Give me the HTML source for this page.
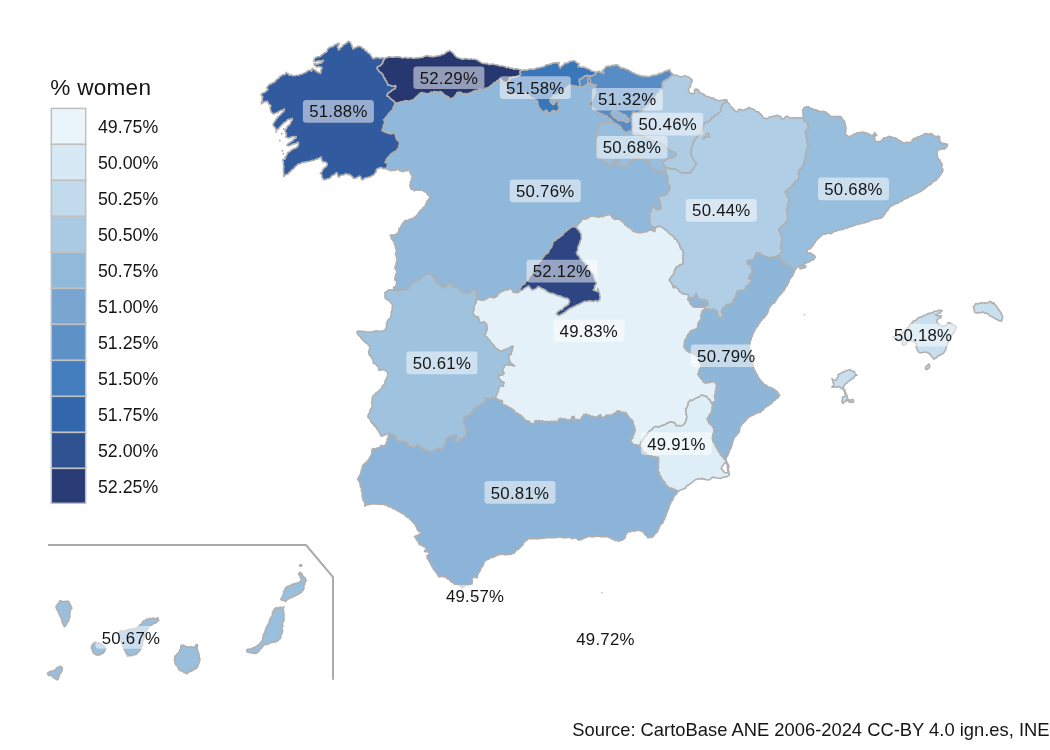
<!DOCTYPE html>
<html><head><meta charset="utf-8"><title>% women</title>
<style>html,body{margin:0;padding:0;background:#fff}body{width:1050px;height:750px;position:relative;overflow:hidden}</style></head>
<body>
<svg width="1050" height="750" viewBox="0 0 1050 750" style="position:absolute;left:0;top:0">
<g stroke="#b0b0b0" stroke-width="1.6" stroke-linejoin="round">
<path fill="#90B8DA" d="M386.3 168.7 387.6 169.1 388.4 170.0 389.9 170.0 390.9 170.8 392.3 170.6 393.5 169.9 394.7 170.4 396.4 169.9 396.6 169.1 397.9 168.1 398.4 169.7 399.5 170.6 400.8 170.9 402.2 171.6 403.5 171.5 405.2 170.7 406.4 170.8 407.6 170.7 408.3 170.1 409.9 169.9 409.7 171.0 409.9 172.6 410.8 173.4 411.1 174.8 412.0 175.8 412.3 177.2 411.2 178.7 411.5 179.9 411.0 181.2 410.1 182.4 410.7 183.9 409.8 185.5 410.1 186.4 410.6 187.7 410.9 188.8 412.1 189.5 413.2 189.6 414.2 190.9 415.4 190.2 416.3 189.9 417.5 189.9 418.9 190.1 420.5 190.1 421.9 190.2 423.3 190.7 424.2 191.8 425.9 192.0 426.6 192.7 427.0 193.9 428.1 194.9 428.9 195.9 430.1 196.5 429.7 197.8 429.0 198.8 428.1 199.9 427.1 201.1 426.7 202.0 426.2 203.5 425.5 204.5 425.5 205.7 424.5 206.8 422.9 207.8 422.3 209.3 420.9 209.9 419.7 211.2 418.9 212.0 418.1 213.7 417.5 214.7 416.5 215.6 415.9 216.3 415.0 217.5 413.9 217.3 413.2 218.5 411.5 218.7 410.5 219.6 409.6 219.3 408.3 219.9 406.8 220.3 404.8 220.5 404.0 222.2 403.0 223.1 401.7 224.7 401.1 226.1 400.4 227.7 398.8 228.8 399.2 230.2 398.6 231.4 398.2 232.5 396.9 233.9 395.9 234.0 394.8 234.9 393.9 235.1 392.6 235.1 391.2 234.9 390.2 235.2 391.0 236.6 391.5 238.2 391.9 239.5 393.3 240.8 393.5 241.8 394.6 243.1 394.3 244.3 395.1 245.1 395.3 246.9 395.8 248.4 396.3 249.9 396.5 251.7 395.6 253.4 395.6 254.8 396.2 255.8 396.6 257.3 396.8 258.9 397.1 260.0 396.5 261.5 396.0 262.8 396.4 264.1 395.6 265.5 395.2 266.7 394.9 268.2 395.8 269.1 396.2 270.6 397.2 271.1 396.7 272.6 396.1 273.8 395.4 275.1 395.5 276.9 394.9 277.9 394.8 279.5 395.4 280.4 396.5 281.5 397.1 282.6 396.2 283.8 396.2 285.5 395.1 286.7 393.5 287.3 393.9 288.4 393.7 289.6 395.1 290.5 396.5 290.2 397.4 290.6 398.3 290.6 399.5 290.7 400.5 289.8 401.5 289.1 402.6 289.9 403.7 290.1 404.5 289.6 406.0 289.7 407.1 289.2 408.2 289.0 409.1 288.2 410.1 287.4 410.0 285.9 410.3 284.1 411.7 283.5 413.1 282.5 414.1 281.8 415.7 281.8 416.8 280.5 417.8 279.8 419.4 279.8 420.2 279.2 421.0 278.0 422.4 276.7 423.3 275.9 425.1 275.4 426.2 275.0 427.4 273.9 428.3 273.5 430.1 273.9 430.8 274.9 432.4 275.3 432.9 276.7 433.9 277.3 434.8 278.1 435.2 278.7 436.5 279.2 436.4 280.5 435.7 281.8 436.9 283.5 438.2 283.8 439.5 284.9 441.0 286.2 442.2 286.3 443.0 287.5 444.2 287.9 445.7 286.5 446.4 285.3 447.9 284.6 449.1 283.6 450.2 283.1 451.8 282.9 451.9 284.4 452.5 285.4 452.2 286.7 453.3 287.1 454.3 287.3 455.7 286.9 457.0 287.3 457.9 288.1 459.1 288.5 460.2 290.1 460.8 291.5 462.6 292.1 463.5 293.3 465.1 293.5 467.1 294.0 468.2 293.5 469.2 292.7 470.2 292.2 471.6 290.5 473.2 290.0 474.8 290.1 476.4 289.5 476.5 290.7 476.5 292.3 476.2 293.2 476.5 295.0 476.5 296.3 476.9 297.6 476.7 299.3 478.1 299.7 479.3 299.6 481.0 299.9 481.8 300.1 483.2 300.6 484.4 299.9 485.7 299.0 487.2 298.7 488.0 297.9 489.4 297.1 490.6 296.8 491.6 297.4 493.2 297.2 494.1 297.9 495.4 297.2 496.9 296.2 498.1 294.6 498.6 293.3 500.1 292.8 500.7 292.0 502.1 291.1 502.9 291.2 504.2 290.4 505.1 290.0 506.4 289.8 507.9 289.9 508.9 289.2 509.8 288.5 511.1 288.8 511.9 289.5 512.4 290.8 512.8 292.0 514.5 292.2 515.8 292.6 517.3 292.7 518.3 292.3 519.3 291.2 519.8 289.8 519.9 288.8 521.1 287.3 521.3 285.8 522.6 285.1 523.3 284.3 524.9 284.0 525.0 282.6 526.2 281.2 526.9 280.3 528.0 279.8 528.5 278.7 529.0 277.3 530.2 275.8 531.2 274.8 531.5 273.5 532.3 272.0 533.6 271.5 533.9 269.8 535.0 268.9 535.5 267.0 536.7 266.0 537.3 264.4 538.5 263.4 539.1 262.2 540.5 261.2 541.4 260.3 541.6 259.1 542.8 258.0 543.5 256.6 544.2 256.2 544.9 254.5 546.0 254.0 547.7 253.0 548.7 252.1 549.0 250.5 549.6 249.4 550.4 248.5 551.5 247.5 551.9 245.8 552.6 244.8 552.3 243.4 553.2 242.0 553.9 240.9 555.7 240.3 556.5 239.2 557.5 238.4 558.7 237.9 559.8 237.2 561.0 236.0 562.6 235.3 563.3 233.8 564.3 232.6 565.6 231.6 566.9 230.6 567.6 229.8 568.8 229.2 569.9 228.2 571.3 227.3 572.3 227.0 573.3 226.5 574.5 227.0 576.0 227.3 576.7 225.9 577.5 225.1 578.7 224.0 579.5 223.1 580.1 222.1 581.4 221.2 581.9 219.9 582.2 218.9 583.5 218.7 585.4 219.3 586.6 218.3 588.3 218.2 589.2 217.2 590.5 216.3 591.6 216.1 592.7 216.0 594.4 216.3 595.6 216.6 597.1 216.7 598.4 217.2 600.1 216.9 601.2 216.3 602.8 216.7 604.0 216.1 605.3 215.3 606.7 215.3 608.5 214.8 610.2 214.7 611.2 215.6 611.8 217.1 613.3 218.4 614.6 219.5 616.2 219.2 617.5 219.2 618.7 218.9 620.1 219.3 620.6 220.8 622.2 221.1 622.9 222.0 624.0 223.1 624.5 223.9 625.2 225.1 626.9 225.7 627.3 226.5 628.2 227.3 629.9 227.8 630.8 228.7 631.6 229.6 632.3 230.2 633.4 231.4 634.4 231.4 635.5 231.9 636.7 232.2 638.1 232.7 639.8 232.8 641.9 232.8 643.2 231.8 644.8 232.1 645.8 231.8 646.9 231.3 647.8 231.4 648.9 229.9 650.1 230.1 651.3 229.9 652.7 230.5 653.8 231.0 654.9 231.7 654.8 230.3 655.1 228.8 655.3 227.6 654.2 226.8 652.6 226.6 651.5 226.1 650.9 224.8 650.2 223.3 650.2 222.5 650.2 221.4 649.9 220.0 650.1 218.5 649.3 217.2 649.7 216.0 649.9 214.5 649.8 213.1 650.5 212.3 651.2 210.7 651.4 209.6 652.1 208.6 652.5 207.3 653.8 207.2 655.1 206.6 655.1 208.0 655.8 209.1 656.9 210.0 657.9 209.8 659.1 209.0 659.9 209.0 661.1 208.8 661.1 207.7 660.6 206.8 660.7 205.3 660.2 203.7 660.2 201.9 659.3 201.0 659.6 199.7 658.5 198.7 659.0 197.7 658.6 196.1 659.4 195.2 660.2 195.5 661.5 196.0 662.8 196.1 663.9 195.6 664.9 195.3 666.1 194.7 667.5 193.5 668.0 191.8 668.6 190.8 669.6 190.0 669.9 188.9 670.1 187.3 669.1 186.4 669.5 185.1 668.5 184.2 668.0 183.4 667.1 181.9 667.7 180.6 667.8 178.5 668.0 177.2 667.6 175.9 666.7 174.6 666.3 173.1 666.4 171.8 666.0 170.7 665.1 171.8 663.3 171.8 662.4 172.3 661.2 172.5 660.0 173.2 658.8 172.0 657.5 171.2 655.9 171.0 654.3 171.4 653.4 170.8 653.1 169.3 652.5 168.0 651.0 167.2 650.0 166.1 649.9 164.6 650.6 163.1 650.0 161.9 648.9 160.5 647.6 160.6 646.0 160.6 644.6 161.2 643.9 159.9 642.5 158.6 641.1 158.5 639.6 159.0 637.9 158.3 636.8 158.5 635.2 158.5 633.9 158.9 632.7 159.7 631.4 160.5 630.3 161.4 629.6 162.7 629.5 164.2 628.1 164.9 628.0 165.9 626.5 166.9 625.3 166.2 624.1 167.0 622.8 166.7 621.1 166.5 620.2 166.0 618.9 166.2 617.9 164.5 617.5 163.2 617.7 162.2 618.6 160.7 618.6 159.4 617.4 159.7 616.1 159.2 614.9 160.2 614.8 161.5 613.3 162.6 613.4 164.0 612.0 164.5 610.6 165.6 610.2 166.7 609.1 165.4 608.3 164.7 607.3 163.2 605.9 162.6 604.5 162.9 603.4 161.9 602.0 161.1 602.0 159.8 600.6 158.6 600.2 157.0 599.1 156.3 598.7 154.8 598.2 153.4 598.2 151.5 598.0 150.1 597.3 148.4 597.2 146.9 597.3 144.8 596.9 143.3 597.4 141.5 596.7 139.9 597.1 138.2 596.6 136.4 596.4 135.0 596.9 133.4 597.5 132.3 597.9 131.3 598.9 130.1 598.1 128.8 598.6 127.0 598.2 125.9 598.9 124.8 599.0 123.7 600.2 122.5 601.6 122.8 603.1 122.1 604.5 121.8 605.9 122.7 607.6 123.0 608.9 123.1 609.9 123.0 611.5 123.4 613.0 122.9 614.0 123.0 613.2 121.8 612.0 120.5 611.4 119.8 610.2 118.8 608.2 117.9 607.5 116.6 606.2 115.8 604.6 115.4 602.9 114.7 601.9 113.5 600.6 113.7 599.1 113.2 598.0 112.3 596.7 112.8 596.1 111.5 595.9 110.2 594.6 109.4 593.3 108.3 592.0 107.2 591.1 105.8 590.4 105.1 588.8 104.2 589.6 103.0 590.5 102.0 591.6 101.6 591.9 100.4 592.5 98.7 593.3 97.1 593.9 96.0 594.8 94.4 595.0 92.8 596.1 92.1 595.3 90.6 594.7 89.5 594.1 88.7 594.2 88.1 595.4 87.3 595.7 86.3 596.2 84.9 594.8 85.1 593.5 84.7 592.4 83.8 591.5 83.8 590.5 84.1 589.7 83.1 588.6 83.2 588.0 83.8 586.6 84.5 585.7 85.0 584.3 86.2 582.8 86.8 581.3 87.0 580.4 86.9 578.9 87.0 577.8 86.5 576.2 86.2 575.2 86.1 573.5 86.0 572.3 85.3 570.7 85.6 570.1 85.1 569.0 85.4 568.0 86.2 567.4 86.8 566.1 87.5 565.2 88.9 564.4 89.6 563.7 90.9 562.5 91.2 561.4 92.4 560.5 92.8 559.1 94.2 557.8 93.9 557.0 95.2 555.2 95.3 553.7 95.6 552.9 96.5 552.2 97.2 551.2 99.1 550.0 99.8 550.2 101.5 550.7 102.7 552.0 103.6 552.7 104.5 553.8 104.5 554.5 103.2 555.7 102.1 555.9 100.6 557.5 100.9 558.9 101.2 558.1 102.5 558.2 104.1 558.0 105.3 559.1 106.2 559.3 107.3 559.1 108.2 558.3 109.6 558.6 110.9 557.1 110.9 555.9 112.0 554.9 111.1 554.3 110.7 552.6 110.5 551.3 111.7 550.7 113.3 549.5 112.6 547.8 112.6 547.4 111.2 545.9 109.9 545.0 111.1 544.0 112.7 542.9 111.5 541.4 110.8 540.9 109.5 539.8 108.5 538.6 107.5 539.6 107.9 540.0 109.4 539.2 107.7 538.7 106.8 538.2 105.0 537.8 103.9 537.8 101.9 536.8 100.5 535.0 99.5 533.8 98.7 532.7 98.2 531.3 97.9 530.6 96.8 529.5 96.0 528.3 94.6 527.0 93.7 526.3 93.3 525.0 93.3 524.2 92.5 522.1 92.7 520.7 93.1 519.2 93.6 518.0 93.7 516.7 93.6 515.4 94.1 513.9 94.5 512.5 94.6 510.6 94.6 510.2 93.3 509.4 93.3 508.7 91.7 507.8 90.4 507.3 89.0 506.8 87.5 506.1 86.2 505.3 85.4 504.9 83.8 504.0 82.4 503.0 81.8 502.0 80.6 501.2 79.7 500.1 78.3 499.4 78.9 498.3 80.4 497.0 80.5 496.5 81.7 494.8 82.5 493.4 83.1 493.0 84.2 491.9 85.1 490.7 85.6 489.3 87.0 488.1 87.6 486.7 88.2 485.3 88.1 484.5 88.9 482.9 89.4 481.9 89.5 480.1 89.6 479.0 89.5 477.5 90.2 476.2 90.5 475.3 90.3 474.1 91.2 472.9 91.4 472.3 92.2 470.8 92.5 470.0 93.1 468.0 93.5 467.2 94.5 465.2 93.6 463.7 93.9 462.4 93.7 461.5 92.6 460.2 92.4 458.6 92.2 456.9 92.8 456.5 94.3 455.3 95.2 454.8 96.5 454.2 97.4 452.6 97.7 451.6 98.9 450.3 98.7 448.9 97.6 448.1 96.6 447.1 96.1 445.5 95.8 444.3 94.7 443.1 93.5 441.7 92.2 440.1 91.6 439.2 92.4 437.5 91.7 436.4 92.2 435.2 91.6 433.9 91.6 432.5 92.6 430.7 92.1 429.9 93.2 428.4 93.6 427.0 93.8 425.6 93.5 424.3 93.0 423.0 93.2 421.9 92.5 420.2 93.3 419.0 94.4 418.0 95.4 416.9 96.4 415.5 97.7 414.3 98.8 413.7 99.9 411.7 100.0 410.4 100.7 409.0 101.3 407.1 100.8 405.6 100.8 403.9 101.1 402.8 101.9 401.1 101.7 399.7 102.3 398.4 103.0 397.1 102.7 395.7 103.0 394.9 103.8 394.6 105.4 393.5 106.4 393.2 107.1 393.0 108.5 393.1 109.9 391.6 110.4 390.4 111.8 389.9 112.8 388.4 113.6 387.7 115.5 386.5 116.5 385.4 117.7 384.8 119.1 383.6 119.7 384.3 120.7 384.6 122.3 384.3 123.9 383.5 125.1 383.1 126.5 383.2 128.2 382.2 129.5 382.3 131.0 383.4 130.9 384.7 132.0 385.5 132.3 387.2 132.6 388.0 133.5 389.4 133.3 391.1 133.9 392.6 133.4 393.8 132.5 394.7 133.7 395.5 135.5 395.8 136.8 396.2 138.1 396.8 139.7 398.1 140.5 398.9 141.7 399.7 143.3 399.3 144.9 398.8 146.1 398.5 147.4 398.2 148.5 396.8 150.0 396.1 150.8 395.2 151.6 393.5 152.1 393.1 153.1 391.3 153.6 390.1 154.9 389.3 156.0 388.4 156.8 387.6 157.8 386.4 159.0 386.2 160.6 385.0 162.2 386.6 163.0 387.8 164.0 387.2 165.8 387.2 167.1 386.3 168.7Z"/>
<path fill="#E4F1F9" d="M476.7 299.3 478.1 299.7 479.3 299.6 481.0 299.9 481.8 300.1 483.2 300.6 484.4 299.9 485.7 299.0 487.2 298.7 488.0 297.9 489.4 297.1 490.6 296.8 491.6 297.4 493.2 297.2 494.1 297.9 495.4 297.2 496.9 296.2 498.1 294.6 498.6 293.3 500.1 292.8 500.7 292.0 502.1 291.1 502.9 291.2 504.2 290.4 505.1 290.0 506.4 289.8 507.9 289.9 508.9 289.2 509.8 288.5 511.1 288.8 511.9 289.5 512.4 290.8 512.8 292.0 514.5 292.2 515.8 292.6 517.3 292.7 518.3 292.3 519.3 291.2 519.8 289.8 519.9 288.8 521.1 287.3 521.3 285.8 522.6 285.1 523.3 284.3 524.9 284.0 525.0 282.6 526.2 281.2 526.9 280.3 528.0 279.8 528.5 278.7 529.0 277.3 530.2 275.8 531.2 274.8 531.5 273.5 532.3 272.0 533.6 271.5 533.9 269.8 535.0 268.9 535.5 267.0 536.7 266.0 537.3 264.4 538.5 263.4 539.1 262.2 540.5 261.2 541.4 260.3 541.6 259.1 542.8 258.0 543.5 256.6 544.2 256.2 544.9 254.5 546.0 254.0 547.7 253.0 548.7 252.1 549.0 250.5 549.6 249.4 550.4 248.5 551.5 247.5 551.9 245.8 552.6 244.8 552.3 243.4 553.2 242.0 553.9 240.9 555.7 240.3 556.5 239.2 557.5 238.4 558.7 237.9 559.8 237.2 561.0 236.0 562.6 235.3 563.3 233.8 564.3 232.6 565.6 231.6 566.9 230.6 567.6 229.8 568.8 229.2 569.9 228.2 571.3 227.3 572.3 227.0 573.3 226.5 574.5 227.0 576.0 227.3 576.7 225.9 577.5 225.1 578.7 224.0 579.5 223.1 580.1 222.1 581.4 221.2 581.9 219.9 582.2 218.9 583.5 218.7 585.4 219.3 586.6 218.3 588.3 218.2 589.2 217.2 590.5 216.3 591.6 216.1 592.7 216.0 594.4 216.3 595.6 216.6 597.1 216.7 598.4 217.2 600.1 216.9 601.2 216.3 602.8 216.7 604.0 216.1 605.3 215.3 606.7 215.3 608.5 214.8 610.2 214.7 611.2 215.6 611.8 217.1 613.3 218.4 614.6 219.5 616.2 219.2 617.5 219.2 618.7 218.9 620.1 219.3 620.6 220.8 622.2 221.1 622.9 222.0 624.0 223.1 624.5 223.9 625.2 225.1 626.9 225.7 627.3 226.5 628.2 227.3 629.9 227.8 630.8 228.7 631.6 229.6 632.3 230.2 633.4 231.4 634.4 231.4 635.5 231.9 636.7 232.2 638.1 232.7 639.8 232.8 641.9 232.8 643.2 231.8 644.8 232.1 645.8 231.8 646.9 231.3 647.8 231.4 648.9 229.9 650.1 230.1 651.3 229.9 652.7 230.5 653.8 231.0 654.9 231.7 654.8 230.3 655.1 228.8 655.3 227.6 656.7 227.3 657.4 226.6 658.5 226.1 660.2 226.4 661.2 226.8 662.9 227.6 664.1 228.7 665.2 229.7 666.4 230.2 667.5 231.2 668.3 232.5 669.3 233.3 670.5 234.2 671.5 235.3 673.1 235.8 674.1 237.2 674.8 238.8 676.5 239.4 677.2 240.9 677.9 242.3 679.4 243.4 679.3 245.0 680.3 245.8 680.1 247.2 680.8 248.5 682.2 250.0 682.9 251.0 683.0 252.0 683.3 253.1 683.4 254.9 682.7 255.6 682.8 257.1 683.1 258.8 683.0 259.9 683.2 261.2 683.1 262.9 682.9 263.7 682.1 264.6 680.8 264.6 679.4 265.2 678.8 266.2 677.2 266.8 676.1 267.3 675.4 268.8 674.9 269.8 674.4 270.9 674.3 272.4 673.8 273.1 673.3 274.9 671.9 275.9 670.9 277.6 669.9 278.7 669.3 280.1 670.0 280.7 670.4 281.6 671.2 282.6 672.0 284.1 673.4 285.5 673.0 286.6 673.7 287.9 674.0 287.0 674.8 286.2 675.7 286.6 676.7 287.8 678.1 288.7 678.8 289.6 679.2 290.9 679.7 291.7 681.5 292.4 682.1 293.3 683.8 294.0 685.3 294.0 686.8 293.8 688.1 294.5 688.4 295.7 688.8 297.1 688.5 298.3 687.7 298.9 688.4 300.1 689.6 301.1 690.3 302.1 690.3 303.9 691.5 304.7 692.9 305.6 694.7 305.7 695.6 307.0 697.4 307.3 699.0 306.8 700.6 306.3 702.1 307.1 703.5 306.8 705.5 305.9 704.5 307.2 704.9 308.5 704.0 310.0 703.0 310.7 702.2 311.1 702.1 312.2 702.0 313.4 701.1 314.7 700.7 316.1 701.3 317.3 701.2 318.6 700.8 320.2 699.9 320.6 699.1 321.8 698.5 322.7 698.2 324.4 697.8 325.2 697.7 326.7 697.9 327.5 697.2 328.5 695.7 329.3 694.7 329.8 693.2 330.2 692.1 330.6 690.7 331.1 690.0 332.0 689.6 333.2 688.3 334.1 687.9 335.5 687.2 336.0 687.1 337.6 685.8 338.8 685.4 340.0 684.6 341.1 684.5 342.5 684.6 344.3 684.2 345.1 684.0 346.5 684.8 347.9 685.8 349.4 686.7 350.5 688.0 351.0 688.6 351.8 690.2 352.2 691.1 352.9 692.9 353.5 694.2 353.9 694.9 354.3 696.3 355.4 697.3 356.0 697.9 357.2 698.8 358.5 699.4 360.2 699.8 361.2 700.0 363.1 701.3 364.3 701.4 366.2 701.1 367.6 700.1 368.1 699.7 369.7 699.2 370.8 698.9 371.5 698.7 372.9 697.8 374.2 698.8 374.8 699.3 376.3 699.9 377.2 701.1 378.6 702.3 379.5 702.9 380.8 703.4 381.9 704.9 382.8 706.2 382.9 707.9 382.4 709.4 382.5 710.6 382.2 711.7 381.9 713.0 381.6 714.5 381.5 715.4 382.9 716.1 383.8 716.9 385.4 716.3 386.7 716.4 388.1 715.9 389.4 715.6 390.3 715.5 391.7 715.5 393.1 715.2 394.8 714.6 395.7 714.7 397.5 715.1 399.0 715.9 399.9 715.0 401.2 713.3 402.1 712.7 402.4 712.0 403.3 711.0 402.7 710.5 401.1 709.8 399.8 708.6 399.0 707.4 398.0 706.8 396.5 705.4 396.2 703.7 395.8 702.5 395.1 701.3 395.3 700.2 396.5 698.6 396.9 697.7 397.6 696.0 398.0 694.9 398.9 693.9 399.4 692.9 400.2 691.2 400.5 690.2 400.1 689.5 401.4 688.5 401.9 688.1 403.2 688.1 404.9 687.3 406.4 686.8 408.2 685.6 409.0 685.9 410.1 686.0 411.1 686.1 412.7 686.0 413.8 686.8 415.6 686.8 416.8 686.9 418.2 685.8 419.8 686.2 421.1 685.3 422.5 684.6 423.5 684.0 424.2 682.6 425.5 681.7 425.8 679.9 426.1 678.7 425.5 677.2 425.8 675.9 425.6 675.4 424.1 674.5 422.5 673.4 422.8 672.2 422.0 671.4 421.9 669.4 422.2 668.6 422.9 666.6 423.2 665.8 424.2 664.0 425.1 662.5 425.4 661.7 426.2 660.0 426.3 658.5 427.3 657.4 426.9 656.2 426.5 654.7 426.8 653.5 427.9 652.6 428.8 651.1 430.1 649.9 430.8 649.1 431.5 648.4 432.9 647.1 433.3 646.7 434.8 645.5 436.1 644.1 437.2 643.2 438.8 642.3 439.9 642.4 441.3 641.0 441.8 640.6 443.5 640.2 444.5 639.3 445.7 638.2 445.6 636.4 445.0 635.3 444.7 634.1 444.9 633.0 444.0 632.2 443.3 631.1 441.8 630.5 440.4 630.9 439.0 632.5 438.2 632.9 436.7 633.1 435.4 634.1 433.9 634.2 432.4 634.9 431.5 635.0 429.7 634.7 428.5 634.4 427.6 634.2 425.8 633.1 424.6 633.2 422.9 632.7 421.2 631.7 419.8 630.4 419.2 629.3 418.0 628.4 416.3 627.1 415.1 626.5 413.6 625.4 412.5 623.8 412.5 621.8 412.2 620.7 412.0 619.2 411.1 617.1 411.1 616.3 412.5 615.0 413.0 613.8 414.0 612.5 414.5 611.2 416.2 610.0 415.2 608.6 415.3 607.5 415.4 606.3 415.3 605.5 416.1 604.3 417.0 603.8 417.9 603.9 419.2 602.7 418.3 602.0 417.5 601.0 416.2 600.5 414.7 599.5 415.4 598.2 416.3 597.3 416.7 596.1 417.4 594.3 417.3 593.3 416.6 591.9 416.6 590.6 416.2 589.6 415.4 588.2 415.5 587.3 414.7 585.9 414.3 584.9 414.7 583.8 414.6 583.2 415.8 582.1 417.0 581.5 418.4 581.1 419.3 579.9 419.5 578.5 420.4 577.2 419.6 575.8 419.5 574.5 419.7 574.2 418.2 574.2 416.6 572.8 416.7 572.0 416.6 572.1 418.2 571.1 419.0 571.4 420.2 569.8 420.0 568.7 420.3 567.5 419.8 566.1 419.7 564.7 418.7 563.1 418.8 562.1 419.0 560.5 418.4 559.5 418.7 558.4 420.3 557.8 421.4 556.5 421.9 555.1 421.3 553.8 422.1 552.7 421.5 551.0 421.6 549.1 421.9 548.1 421.8 546.9 421.5 545.1 422.1 543.8 421.6 542.9 421.1 541.2 421.3 539.7 421.1 538.9 420.5 537.6 421.1 535.9 420.8 534.9 420.9 534.6 422.5 534.8 424.0 533.7 423.9 532.9 423.8 531.3 423.5 530.1 422.9 529.4 421.8 528.0 421.0 526.5 420.9 525.3 420.2 524.1 419.4 523.8 418.3 522.7 417.5 522.0 416.6 520.9 415.5 520.1 414.8 518.5 414.5 518.1 413.6 516.8 413.2 515.8 412.7 514.7 411.9 514.1 410.5 513.1 410.1 511.7 408.8 510.6 408.1 509.4 407.7 508.3 407.0 506.7 406.3 505.3 405.3 503.9 405.2 502.9 404.7 502.3 403.7 502.3 402.0 502.0 400.5 500.7 400.5 499.2 400.2 498.2 399.8 496.9 398.6 495.8 399.1 494.7 398.0 495.5 397.0 495.8 396.0 496.7 394.6 497.2 393.1 498.0 391.8 498.4 391.0 498.3 389.2 498.8 388.0 499.0 387.1 500.2 386.1 501.4 386.2 503.4 386.1 503.2 384.2 504.0 382.9 502.9 381.7 501.4 382.0 500.8 381.5 500.6 380.2 499.4 379.3 498.9 378.0 498.8 376.8 498.3 375.9 497.9 374.3 499.5 375.1 500.9 374.9 502.1 375.2 502.9 374.5 504.2 373.1 503.4 372.5 502.8 371.2 502.6 369.8 503.2 368.5 503.6 367.6 504.2 366.0 505.4 365.5 506.6 364.4 508.4 364.4 509.1 365.1 510.7 365.1 512.2 365.2 512.9 365.6 514.5 365.8 513.2 364.9 512.1 364.1 511.1 363.3 510.3 362.5 509.7 361.0 509.2 359.8 509.1 358.4 508.2 357.4 507.9 356.1 509.4 355.6 510.6 354.5 511.4 353.5 511.0 352.0 511.9 350.8 512.3 349.1 512.7 347.6 512.9 346.2 511.3 346.7 510.2 347.4 509.1 348.2 507.8 348.7 506.6 349.0 505.4 349.9 503.8 349.9 502.9 350.9 501.4 351.5 499.8 350.7 498.8 350.0 497.5 349.4 496.2 348.3 494.8 347.4 494.2 346.0 493.4 345.1 492.0 343.9 491.3 343.0 490.7 342.1 489.9 340.6 489.1 339.8 488.1 339.0 487.5 337.8 486.3 336.8 485.2 336.6 484.7 335.5 485.5 334.0 485.8 332.9 486.2 331.3 486.8 330.0 487.2 328.7 487.2 327.4 486.4 326.0 486.7 324.8 485.7 323.4 484.5 322.2 483.5 321.7 482.3 322.7 481.1 322.9 480.0 322.1 479.2 320.8 479.2 319.5 478.2 318.2 478.2 316.7 476.4 316.9 474.9 316.0 473.7 314.7 472.9 314.0 473.0 312.1 473.3 311.1 474.1 309.5 473.7 307.6 474.1 306.0 474.8 304.6 475.6 303.3 476.1 302.5 475.8 300.3 476.7 299.3Z"/>
<path fill="#8CB4D8" d="M677.7 491.3 677.5 492.4 676.8 493.4 675.8 494.7 674.6 495.6 674.1 496.6 673.3 497.9 673.1 499.1 672.2 500.7 670.9 501.5 670.9 502.5 670.4 504.0 669.4 505.0 669.5 505.8 668.9 507.4 668.7 508.5 668.3 509.8 667.1 511.4 667.1 512.5 666.1 513.8 666.2 515.5 665.5 516.6 664.8 517.9 664.8 519.4 663.6 520.3 663.1 522.1 662.6 523.2 661.7 523.9 660.5 524.5 660.0 525.9 659.3 527.1 658.7 528.9 658.1 530.1 657.5 531.1 656.9 532.6 655.3 533.4 654.6 534.6 653.8 535.8 652.6 536.9 651.5 537.5 649.3 537.5 647.8 537.9 647.4 536.4 646.0 535.7 645.4 534.9 644.4 533.9 643.7 532.6 642.6 531.5 641.8 531.1 640.4 531.0 639.4 529.9 638.3 530.6 636.5 530.3 635.2 531.1 633.8 531.5 632.1 530.5 630.8 531.6 629.1 531.9 627.8 532.0 627.0 533.1 626.0 534.4 625.6 536.0 625.3 537.4 624.2 538.6 623.5 539.3 622.3 540.2 620.9 540.4 619.2 540.9 618.2 541.1 616.6 540.2 615.5 540.7 614.3 539.8 613.1 539.4 612.0 539.1 610.6 538.4 610.2 537.5 608.5 537.3 607.3 536.6 606.2 536.7 604.6 536.5 603.1 537.0 602.3 536.2 600.9 536.9 599.6 536.5 598.2 536.3 596.5 536.2 595.1 536.5 593.9 536.6 592.4 536.4 591.6 537.0 590.2 536.5 588.8 536.5 587.1 537.0 586.2 537.6 584.7 537.7 583.4 538.5 582.2 539.4 580.7 539.5 579.7 540.1 578.0 539.7 576.8 538.5 575.1 537.9 573.9 537.8 572.5 538.8 571.5 538.2 570.1 537.8 568.8 537.2 567.4 537.8 566.2 537.2 564.5 538.1 563.4 537.3 561.8 537.6 560.8 537.1 559.6 536.8 557.8 537.4 556.7 537.2 555.2 537.6 554.2 537.7 552.7 537.5 551.3 537.8 550.3 537.4 548.6 537.8 547.2 537.6 546.0 537.4 544.5 538.2 543.2 538.3 542.2 538.5 540.6 538.3 539.1 538.8 537.8 538.7 536.6 538.9 535.0 538.4 533.6 538.8 531.8 538.4 530.1 538.5 531.5 538.3 533.5 538.7 532.1 538.4 530.7 538.7 529.6 538.6 528.0 538.9 527.3 539.9 526.4 540.5 525.1 541.1 523.9 542.5 523.2 543.9 522.9 545.1 521.5 546.2 520.2 547.4 519.4 548.5 518.3 549.4 516.9 549.6 516.1 550.6 515.0 552.1 514.0 553.1 512.6 553.2 512.0 554.1 510.6 554.5 509.1 554.0 508.1 554.7 506.9 554.6 505.6 554.6 503.9 554.6 502.8 554.1 501.1 554.4 500.2 554.3 498.5 554.9 496.9 555.0 496.1 555.9 494.5 556.6 493.2 557.5 491.7 557.2 490.5 557.9 489.2 558.9 488.0 559.5 486.8 559.7 485.5 560.3 485.0 561.5 483.8 562.5 483.6 563.9 483.0 565.8 481.9 566.9 481.1 568.1 480.4 569.5 480.2 570.8 479.2 572.1 478.4 573.3 478.0 574.5 477.2 575.7 477.6 576.9 476.9 577.9 475.2 577.4 474.2 576.6 473.0 577.8 471.5 578.9 472.3 580.5 472.3 581.5 472.2 583.5 470.8 584.3 469.3 584.8 467.8 585.3 466.4 584.6 465.5 585.5 464.1 586.4 462.8 586.8 461.8 588.1 461.5 586.9 460.1 585.9 459.4 585.1 457.9 584.8 456.2 584.0 454.6 584.2 453.7 583.3 452.4 582.2 451.5 582.2 450.5 580.9 449.6 580.1 448.9 579.2 447.2 578.7 446.4 577.6 445.3 576.6 443.9 576.9 442.1 576.5 440.6 576.3 438.9 576.9 438.0 575.6 437.2 573.8 436.1 572.5 435.5 571.5 434.3 570.2 433.2 568.9 432.8 567.2 431.8 566.5 431.6 565.4 430.7 564.2 430.2 562.5 429.1 561.7 428.9 560.2 428.0 559.1 427.0 558.2 427.6 557.1 426.8 556.0 428.0 555.3 428.9 554.5 429.9 554.0 428.7 553.1 427.9 551.5 426.2 551.7 424.5 551.5 425.3 550.0 426.6 548.9 425.3 547.4 424.0 546.5 422.6 546.2 421.8 545.0 419.9 544.9 418.8 543.5 418.5 542.5 418.1 541.5 416.8 540.3 416.3 539.2 415.8 538.1 415.2 537.7 414.5 536.6 416.2 535.8 417.3 535.6 418.9 534.7 419.6 533.8 420.8 533.7 421.5 532.5 420.1 531.6 418.8 531.5 417.7 530.3 417.0 528.8 416.7 527.3 415.6 525.9 415.1 524.3 413.8 523.1 412.9 522.6 412.2 521.4 411.2 520.3 409.9 519.4 409.3 518.0 407.3 517.2 406.5 516.7 405.1 515.5 403.9 514.1 402.9 513.8 401.1 512.9 399.9 511.8 398.7 511.5 397.5 510.8 396.1 509.8 395.2 509.1 394.2 509.0 392.7 508.5 391.9 507.7 390.6 506.6 388.8 506.9 387.8 506.0 386.7 505.3 384.8 504.9 383.5 504.1 382.5 504.6 381.1 504.2 379.9 503.9 378.2 504.1 376.7 504.0 375.8 503.5 374.3 504.2 373.0 503.9 371.6 503.8 370.1 504.5 368.5 504.7 367.2 504.6 366.0 505.4 364.8 506.2 365.0 504.6 364.6 502.6 363.8 501.3 363.1 500.1 362.7 498.0 362.2 496.7 362.0 495.0 362.7 493.3 362.0 492.0 361.2 490.5 361.7 488.6 360.8 487.3 360.1 486.2 360.6 484.6 359.9 483.5 359.4 482.2 358.6 480.6 357.9 479.8 357.6 478.8 358.6 477.8 358.8 476.8 359.8 475.6 360.2 474.4 360.8 473.1 361.0 472.1 361.3 470.3 362.0 469.2 362.2 467.9 362.3 466.5 362.8 465.5 363.8 464.1 364.8 463.6 365.6 462.6 366.8 462.0 367.4 461.0 368.4 459.8 369.0 458.8 369.7 457.8 370.3 456.5 371.3 455.4 371.6 453.9 371.7 452.6 371.7 451.6 371.9 450.4 372.2 449.1 373.3 448.6 374.5 448.8 375.9 448.4 377.5 447.9 378.8 447.8 380.2 447.2 380.5 445.5 382.5 445.5 383.7 446.6 384.7 445.3 385.6 444.6 386.3 443.2 386.5 442.2 387.5 440.5 387.0 439.6 388.3 438.1 388.0 436.7 388.7 435.8 388.5 434.3 389.0 433.3 390.2 433.6 391.3 434.3 392.4 434.7 394.0 435.1 394.9 435.8 396.5 436.7 396.3 438.4 397.1 439.8 398.2 440.8 399.3 441.2 400.4 441.4 401.7 441.8 402.7 441.2 404.5 441.3 405.6 442.1 406.7 442.5 407.6 442.9 408.3 444.0 408.1 444.8 408.8 445.9 410.2 446.8 411.8 446.6 412.9 447.0 414.2 447.3 415.4 446.3 416.4 445.5 417.2 444.9 418.1 445.1 419.9 445.5 420.4 446.9 421.8 447.9 422.6 449.0 423.8 449.0 425.2 450.2 426.4 450.1 427.0 450.7 428.2 451.4 429.3 452.0 431.1 451.8 432.4 451.3 433.9 450.2 435.5 449.5 436.5 449.0 438.3 448.5 439.8 448.2 441.2 448.6 442.8 448.5 443.5 446.8 444.5 446.2 444.7 444.7 445.0 443.5 445.0 442.4 445.2 441.3 445.9 440.0 446.5 439.0 447.9 438.0 448.6 437.5 449.9 436.6 450.8 436.1 452.3 435.8 454.1 435.4 455.8 434.8 456.7 436.1 457.5 436.5 456.7 437.8 456.2 438.7 455.4 439.6 454.5 440.6 455.6 441.5 456.2 442.3 457.2 442.0 458.3 440.8 458.9 439.9 460.1 439.9 461.0 438.8 462.4 438.5 463.5 437.6 465.2 436.7 465.8 435.9 465.9 434.3 466.8 433.3 466.0 432.0 466.1 430.4 465.9 428.9 464.9 427.4 465.1 425.4 464.5 423.9 463.5 422.9 463.8 421.4 462.9 420.0 463.8 418.6 465.0 417.1 465.9 415.9 467.6 415.9 468.5 414.7 469.6 414.6 470.8 413.5 471.9 412.1 472.6 410.6 473.5 409.4 474.9 408.2 476.2 406.5 477.6 406.6 479.0 406.1 480.2 405.3 480.9 403.9 481.9 403.4 483.4 402.7 484.3 401.5 485.1 401.1 485.9 400.2 485.6 398.8 485.2 397.8 486.8 398.3 488.2 398.1 489.5 398.9 490.3 398.8 491.8 398.0 492.5 397.5 493.8 397.6 494.7 398.0 495.8 399.1 496.9 398.6 498.2 399.8 499.2 400.2 500.7 400.5 502.0 400.5 502.3 402.0 502.3 403.7 502.9 404.7 503.9 405.2 505.3 405.3 506.7 406.3 508.3 407.0 509.4 407.7 510.6 408.1 511.7 408.8 513.1 410.1 514.1 410.5 514.7 411.9 515.8 412.7 516.8 413.2 518.1 413.6 518.5 414.5 520.1 414.8 520.9 415.5 522.0 416.6 522.7 417.5 523.8 418.3 524.1 419.4 525.3 420.2 526.5 420.9 528.0 421.0 529.4 421.8 530.1 422.9 531.3 423.5 532.9 423.8 533.7 423.9 534.8 424.0 534.6 422.5 534.9 420.9 535.9 420.8 537.6 421.1 538.9 420.5 539.7 421.1 541.2 421.3 542.9 421.1 543.8 421.6 545.1 422.1 546.9 421.5 548.1 421.8 549.1 421.9 551.0 421.6 552.7 421.5 553.8 422.1 555.1 421.3 556.5 421.9 557.8 421.4 558.4 420.3 559.5 418.7 560.5 418.4 562.1 419.0 563.1 418.8 564.7 418.7 566.1 419.7 567.5 419.8 568.7 420.3 569.8 420.0 571.4 420.2 571.1 419.0 572.1 418.2 572.0 416.6 572.8 416.7 574.2 416.6 574.2 418.2 574.5 419.7 575.8 419.5 577.2 419.6 578.5 420.4 579.9 419.5 581.1 419.3 581.5 418.4 582.1 417.0 583.2 415.8 583.8 414.6 584.9 414.7 585.9 414.3 587.3 414.7 588.2 415.5 589.6 415.4 590.6 416.2 591.9 416.6 593.3 416.6 594.3 417.3 596.1 417.4 597.3 416.7 598.2 416.3 599.5 415.4 600.5 414.7 601.0 416.2 602.0 417.5 602.7 418.3 603.9 419.2 603.8 417.9 604.3 417.0 605.5 416.1 606.3 415.3 607.5 415.4 608.6 415.3 610.0 415.2 611.2 416.2 612.5 414.5 613.8 414.0 615.0 413.0 616.3 412.5 617.1 411.1 619.2 411.1 620.7 412.0 621.8 412.2 623.8 412.5 625.4 412.5 626.5 413.6 627.1 415.1 628.4 416.3 629.3 418.0 630.4 419.2 631.7 419.8 632.7 421.2 633.2 422.9 633.1 424.6 634.2 425.8 634.4 427.6 634.7 428.5 635.0 429.7 634.9 431.5 634.2 432.4 634.1 433.9 633.1 435.4 632.9 436.7 632.5 438.2 630.9 439.0 630.5 440.4 631.1 441.8 632.2 443.3 633.0 444.0 634.1 444.9 635.3 444.7 636.4 445.0 638.2 445.6 639.3 445.7 640.0 446.7 641.5 447.6 642.0 448.6 642.6 450.1 643.4 451.5 644.8 452.9 646.2 453.1 647.1 454.9 649.0 455.3 650.2 456.1 651.5 455.9 653.1 456.6 654.8 456.8 656.1 456.9 657.6 457.3 658.5 457.3 658.8 459.0 658.1 460.1 658.9 461.7 658.2 463.4 658.3 465.0 658.4 466.3 658.4 467.9 658.0 469.5 658.0 471.0 659.5 472.4 659.0 473.9 660.0 475.5 661.0 476.4 661.5 478.2 662.4 479.6 663.3 480.7 664.3 481.5 665.1 482.9 665.7 484.4 666.7 485.2 667.6 486.3 668.8 487.4 669.9 487.9 671.5 488.3 672.9 488.7 674.1 489.2 675.3 489.6 676.7 490.2 677.7 491.3Z"/>
<path fill="#9FC3DF" d="M389.0 433.3 387.4 433.6 386.2 434.7 384.8 434.8 383.7 435.6 382.3 436.0 381.1 436.1 380.2 434.5 380.2 433.3 379.0 432.2 378.6 430.7 377.3 429.5 376.5 428.6 376.5 427.1 375.3 426.2 374.6 424.7 373.9 423.5 374.3 424.6 374.7 425.2 374.7 426.8 374.0 425.1 373.5 424.3 372.4 423.5 371.3 422.4 370.8 421.5 370.3 420.1 370.0 418.9 368.5 418.0 368.0 417.3 368.0 415.8 368.4 414.5 369.1 413.2 369.7 412.4 369.9 410.9 370.2 409.8 371.0 408.7 371.9 407.7 372.2 405.8 372.1 404.8 371.8 403.2 371.5 402.2 372.2 400.5 372.1 399.3 372.3 397.9 372.7 396.6 373.6 395.2 375.0 394.6 375.3 393.9 376.2 392.7 377.7 391.9 379.1 390.9 379.7 389.7 380.9 389.2 381.8 387.9 381.9 386.6 382.7 385.4 383.9 384.7 384.7 383.7 385.0 381.8 385.2 380.5 385.7 379.4 386.6 378.8 386.7 377.2 387.7 376.8 387.7 375.1 387.7 374.4 387.6 373.0 387.1 371.9 386.0 371.1 384.9 370.4 383.9 369.9 382.2 369.4 380.8 370.2 378.8 370.2 378.4 368.2 378.2 366.8 377.2 366.1 376.4 365.0 375.7 363.9 374.4 363.8 373.2 362.9 373.3 361.6 372.9 360.3 373.1 359.1 371.7 358.5 371.2 356.8 370.1 355.9 369.2 354.5 368.8 353.2 368.6 351.8 369.2 350.0 369.7 348.9 369.6 347.3 369.9 345.9 368.2 345.2 367.7 343.8 366.2 343.1 365.2 342.3 364.5 341.7 363.7 340.6 362.5 340.1 362.1 338.4 360.9 338.1 360.4 336.6 359.2 336.0 358.4 334.8 357.6 333.9 357.0 332.4 357.2 331.3 358.5 331.4 359.7 330.9 361.0 331.5 362.6 331.2 363.8 331.4 365.2 331.8 366.0 332.0 367.7 332.0 369.2 332.0 370.8 332.2 372.1 331.9 373.5 331.4 375.3 330.9 376.8 330.9 378.4 331.5 379.4 331.0 381.3 331.2 382.2 331.3 383.4 330.6 385.0 329.9 385.5 328.8 386.0 328.0 386.4 326.7 386.7 325.9 386.3 324.3 386.6 323.3 387.0 322.1 387.6 321.0 387.8 320.2 388.9 319.2 390.2 318.2 391.0 316.9 390.6 315.9 391.5 314.7 391.2 313.1 391.3 311.8 391.8 310.9 392.3 309.4 392.1 307.3 392.7 306.0 392.3 304.7 391.8 303.7 390.9 302.8 389.6 301.5 389.1 299.8 387.5 300.0 386.7 299.4 385.6 298.5 385.0 297.7 384.9 296.1 385.1 294.6 384.9 292.5 386.5 291.8 387.2 290.9 388.1 290.5 388.8 289.7 390.4 289.8 392.0 290.1 393.7 289.6 395.1 290.5 396.5 290.2 397.4 290.6 398.3 290.6 399.5 290.7 400.5 289.8 401.5 289.1 402.6 289.9 403.7 290.1 404.5 289.6 406.0 289.7 407.1 289.2 408.2 289.0 409.1 288.2 410.1 287.4 410.0 285.9 410.3 284.1 411.7 283.5 413.1 282.5 414.1 281.8 415.7 281.8 416.8 280.5 417.8 279.8 419.4 279.8 420.2 279.2 421.0 278.0 422.4 276.7 423.3 275.9 425.1 275.4 426.2 275.0 427.4 273.9 428.3 273.5 430.1 273.9 430.8 274.9 432.4 275.3 432.9 276.7 433.9 277.3 434.8 278.1 435.2 278.7 436.5 279.2 436.4 280.5 435.7 281.8 436.9 283.5 438.2 283.8 439.5 284.9 441.0 286.2 442.2 286.3 443.0 287.5 444.2 287.9 445.7 286.5 446.4 285.3 447.9 284.6 449.1 283.6 450.2 283.1 451.8 282.9 451.9 284.4 452.5 285.4 452.2 286.7 453.3 287.1 454.3 287.3 455.7 286.9 457.0 287.3 457.9 288.1 459.1 288.5 460.2 290.1 460.8 291.5 462.6 292.1 463.5 293.3 465.1 293.5 467.1 294.0 468.2 293.5 469.2 292.7 470.2 292.2 471.6 290.5 473.2 290.0 474.8 290.1 476.4 289.5 476.5 290.7 476.5 292.3 476.2 293.2 476.5 295.0 476.5 296.3 476.9 297.6 476.7 299.3 475.8 300.3 476.1 302.5 475.6 303.3 474.8 304.6 474.1 306.0 473.7 307.6 474.1 309.5 473.3 311.1 473.0 312.1 472.9 314.0 473.7 314.7 474.9 316.0 476.4 316.9 478.2 316.7 478.2 318.2 479.2 319.5 479.2 320.8 480.0 322.1 481.1 322.9 482.3 322.7 483.5 321.7 484.5 322.2 485.7 323.4 486.7 324.8 486.4 326.0 487.2 327.4 487.2 328.7 486.8 330.0 486.2 331.3 485.8 332.9 485.5 334.0 484.7 335.5 485.2 336.6 486.3 336.8 487.5 337.8 488.1 339.0 489.1 339.8 489.9 340.6 490.7 342.1 491.3 343.0 492.0 343.9 493.4 345.1 494.2 346.0 494.8 347.4 496.2 348.3 497.5 349.4 498.8 350.0 499.8 350.7 501.4 351.5 502.9 350.9 503.8 349.9 505.4 349.9 506.6 349.0 507.8 348.7 509.1 348.2 510.2 347.4 511.3 346.7 512.9 346.2 512.7 347.6 512.3 349.1 511.9 350.8 511.0 352.0 511.4 353.5 510.6 354.5 509.4 355.6 507.9 356.1 508.2 357.4 509.1 358.4 509.2 359.8 509.7 361.0 510.3 362.5 511.1 363.3 512.1 364.1 513.2 364.9 514.5 365.8 512.9 365.6 512.2 365.2 510.7 365.1 509.1 365.1 508.4 364.4 506.6 364.4 505.4 365.5 504.2 366.0 503.6 367.6 503.2 368.5 502.6 369.8 502.8 371.2 503.4 372.5 504.2 373.1 502.9 374.5 502.1 375.2 500.9 374.9 499.5 375.1 497.9 374.3 498.3 375.9 498.8 376.8 498.9 378.0 499.4 379.3 500.6 380.2 500.8 381.5 501.4 382.0 502.9 381.7 504.0 382.9 503.2 384.2 503.4 386.1 501.4 386.2 500.2 386.1 499.0 387.1 498.8 388.0 498.3 389.2 498.4 391.0 498.0 391.8 497.2 393.1 496.7 394.6 495.8 396.0 495.5 397.0 494.7 398.0 493.8 397.6 492.5 397.5 491.8 398.0 490.3 398.8 489.5 398.9 488.2 398.1 486.8 398.3 485.2 397.8 485.6 398.8 485.9 400.2 485.1 401.1 484.3 401.5 483.4 402.7 481.9 403.4 480.9 403.9 480.2 405.3 479.0 406.1 477.6 406.6 476.2 406.5 474.9 408.2 473.5 409.4 472.6 410.6 471.9 412.1 470.8 413.5 469.6 414.6 468.5 414.7 467.6 415.9 465.9 415.9 465.0 417.1 463.8 418.6 462.9 420.0 463.8 421.4 463.5 422.9 464.5 423.9 465.1 425.4 464.9 427.4 465.9 428.9 466.1 430.4 466.0 432.0 466.8 433.3 465.9 434.3 465.8 435.9 465.2 436.7 463.5 437.6 462.4 438.5 461.0 438.8 460.1 439.9 458.9 439.9 458.3 440.8 457.2 442.0 456.2 442.3 455.6 441.5 454.5 440.6 455.4 439.6 456.2 438.7 456.7 437.8 457.5 436.5 456.7 436.1 455.8 434.8 454.1 435.4 452.3 435.8 450.8 436.1 449.9 436.6 448.6 437.5 447.9 438.0 446.5 439.0 445.9 440.0 445.2 441.3 445.0 442.4 445.0 443.5 444.7 444.7 444.5 446.2 443.5 446.8 442.8 448.5 441.2 448.6 439.8 448.2 438.3 448.5 436.5 449.0 435.5 449.5 433.9 450.2 432.4 451.3 431.1 451.8 429.3 452.0 428.2 451.4 427.0 450.7 426.4 450.1 425.2 450.2 423.8 449.0 422.6 449.0 421.8 447.9 420.4 446.9 419.9 445.5 418.1 445.1 417.2 444.9 416.4 445.5 415.4 446.3 414.2 447.3 412.9 447.0 411.8 446.6 410.2 446.8 408.8 445.9 408.1 444.8 408.3 444.0 407.6 442.9 406.7 442.5 405.6 442.1 404.5 441.3 402.7 441.2 401.7 441.8 400.4 441.4 399.3 441.2 398.2 440.8 397.1 439.8 396.3 438.4 396.5 436.7 394.9 435.8 394.0 435.1 392.4 434.7 391.3 434.3 390.2 433.6 389.0 433.3Z"/>
<path fill="#315B9E" d="M385.0 58.3 383.4 58.0 382.2 57.6 380.3 58.5 378.9 57.8 377.5 57.6 375.6 57.6 373.8 58.7 372.3 58.1 371.9 56.9 371.1 55.9 370.5 54.8 369.7 53.7 368.3 53.3 367.6 52.4 366.9 51.3 365.7 51.1 364.9 50.0 364.0 48.7 363.0 48.5 361.8 47.6 361.0 46.8 359.9 46.4 358.4 46.2 357.2 46.7 356.2 47.4 355.2 47.6 353.9 48.6 352.8 48.9 352.7 47.9 352.0 46.7 352.1 45.5 351.5 44.9 350.9 43.7 350.2 42.3 349.5 41.7 348.3 41.4 347.1 42.4 346.2 43.4 345.0 44.1 344.2 44.4 342.8 45.5 342.2 46.4 341.5 47.3 340.3 47.7 339.5 49.3 338.5 50.0 338.2 48.6 337.5 47.2 338.3 45.5 339.5 44.0 338.4 43.4 337.2 43.6 336.1 44.7 334.8 44.6 333.7 45.9 332.8 46.6 331.5 46.8 330.5 47.0 329.6 47.7 328.5 48.1 327.3 49.8 327.1 51.2 325.8 52.4 324.4 52.8 323.1 54.0 321.5 55.0 320.6 56.2 319.6 56.7 318.4 56.8 316.6 57.0 315.6 57.8 314.5 58.4 314.2 60.0 313.6 61.0 314.8 61.5 315.6 61.8 317.4 61.0 318.8 60.9 320.7 60.8 322.5 60.9 323.7 60.1 322.6 61.6 321.8 62.8 320.5 63.1 318.6 63.6 317.7 64.3 316.6 64.0 314.9 63.7 313.9 63.8 314.7 65.4 315.6 66.2 316.9 67.0 318.9 66.6 320.5 67.1 321.6 67.1 322.2 67.7 321.4 69.2 320.9 70.2 321.0 71.4 320.9 72.6 320.2 73.6 319.4 72.8 317.7 72.1 316.3 71.7 315.9 70.3 314.8 70.0 313.4 69.2 312.3 68.3 311.9 69.5 311.7 71.2 310.2 70.5 309.2 70.1 307.2 71.2 306.3 72.2 305.3 72.6 303.8 73.2 302.8 73.9 301.2 74.3 299.7 74.5 298.7 75.3 297.7 75.3 296.4 75.2 294.7 75.7 293.0 75.8 291.8 75.0 290.4 75.1 288.8 75.0 288.4 73.6 287.0 73.5 286.1 72.3 285.8 73.1 285.0 74.5 283.6 74.8 282.5 74.9 281.1 76.1 279.5 76.8 279.0 78.3 277.6 78.7 276.8 79.6 275.6 80.5 274.9 81.8 274.2 82.5 272.4 82.8 271.7 83.7 270.3 84.0 269.4 84.4 268.4 85.6 267.3 86.8 266.8 87.8 267.4 88.9 268.1 89.7 266.9 90.5 265.7 91.6 264.6 92.5 263.1 92.8 261.9 93.6 261.0 94.3 261.8 95.8 262.8 97.1 262.1 98.8 262.5 100.1 262.0 101.2 261.4 102.3 261.4 103.9 262.3 102.7 263.6 102.8 264.3 101.5 265.6 101.8 267.1 101.1 268.0 102.5 268.5 103.8 269.7 104.6 271.0 105.8 270.2 107.0 270.2 109.0 270.7 110.3 270.9 111.6 271.6 112.3 272.8 113.5 273.6 114.1 274.8 113.4 275.9 113.1 277.0 112.4 278.3 112.1 279.4 111.1 281.1 110.3 282.4 110.3 283.3 109.7 284.4 108.9 284.3 110.5 283.7 111.7 282.3 112.6 281.2 113.8 280.3 115.1 279.2 115.8 278.2 116.6 277.7 117.6 276.3 118.8 275.9 120.0 275.0 121.1 274.2 122.4 273.4 123.4 273.1 125.1 274.1 126.6 275.2 127.6 275.8 129.2 276.5 130.2 276.8 129.4 278.3 129.1 279.2 127.8 279.7 127.0 281.0 125.7 281.5 125.0 282.7 124.4 283.3 123.1 284.3 122.4 285.5 122.0 286.7 120.8 287.5 119.8 289.4 119.4 290.5 118.9 292.2 118.4 292.3 119.8 291.6 121.0 290.8 121.9 290.4 123.7 289.4 124.5 288.8 125.5 287.5 125.9 287.1 127.2 286.4 128.7 285.1 129.9 285.3 131.2 285.5 132.3 286.2 133.5 286.4 135.1 285.7 137.1 287.1 137.3 288.3 138.2 289.1 137.6 290.7 137.8 291.5 136.9 293.5 136.5 294.7 136.8 296.2 136.5 296.1 137.3 295.6 138.3 294.2 138.9 293.2 139.7 292.5 141.1 291.0 141.3 290.1 142.7 288.8 143.0 287.6 144.2 286.8 145.1 287.6 144.9 288.4 145.9 290.0 145.4 291.1 145.1 292.5 144.2 293.5 143.9 295.1 143.8 296.2 143.2 297.7 142.3 298.7 142.5 298.2 144.0 298.5 145.8 297.4 146.2 296.7 147.6 295.0 148.4 293.6 148.5 292.3 149.7 291.2 150.1 290.3 151.3 289.1 151.9 287.5 152.5 287.5 153.8 287.1 154.4 286.2 155.9 285.4 156.6 285.2 157.9 285.1 159.2 283.7 159.3 282.9 159.8 283.1 161.0 283.5 162.5 283.2 163.8 283.4 165.0 283.9 166.9 283.4 168.1 283.5 169.9 283.6 171.6 283.7 173.1 283.8 174.6 283.9 176.5 284.8 175.2 285.8 174.6 287.2 174.3 288.4 173.7 288.9 172.5 290.5 171.8 291.3 170.0 292.9 169.4 293.7 168.4 294.6 167.3 295.5 166.6 296.3 165.5 297.3 165.1 298.3 164.0 299.6 163.7 300.7 163.7 302.0 162.4 303.2 162.5 304.4 162.4 305.4 161.9 307.1 161.7 308.3 161.5 309.9 161.3 311.1 160.7 312.4 160.2 313.6 160.6 314.9 159.9 316.0 159.0 317.3 159.3 318.1 158.4 319.8 157.7 321.2 157.0 321.5 158.5 321.5 159.7 322.2 160.8 322.3 161.5 323.9 162.0 324.8 161.7 326.1 162.5 327.2 163.5 327.1 165.0 326.3 166.4 325.5 167.1 324.3 167.8 323.1 169.2 322.5 170.5 321.6 172.2 320.2 173.1 321.6 174.3 321.9 175.9 321.9 177.0 322.8 178.6 323.7 179.6 325.4 179.6 327.0 178.9 327.9 178.6 329.3 178.5 330.3 177.8 331.3 176.2 332.1 175.6 333.8 174.9 334.8 174.2 335.6 173.8 336.1 172.5 337.4 173.2 337.6 174.5 337.8 175.5 338.1 176.8 339.6 176.9 340.2 175.5 341.6 175.1 343.3 175.0 344.6 174.4 345.5 173.6 347.4 174.4 349.0 174.3 350.5 175.2 351.5 175.9 352.7 177.1 353.5 178.4 355.2 178.3 356.3 177.6 357.8 177.4 358.5 176.3 359.8 176.1 360.9 177.2 361.2 178.6 362.2 179.9 363.7 179.1 364.7 178.1 365.8 177.8 367.3 177.7 368.5 177.1 369.7 177.0 371.0 176.2 372.1 175.6 373.7 175.0 374.6 173.3 375.9 172.3 376.2 171.0 376.1 170.1 376.8 169.0 378.3 168.6 379.7 167.8 380.9 167.6 382.0 167.8 382.9 168.8 384.8 168.4 386.3 168.7 387.2 167.1 387.2 165.8 387.8 164.0 386.6 163.0 385.0 162.2 386.2 160.6 386.4 159.0 387.6 157.8 388.4 156.8 389.3 156.0 390.1 154.9 391.3 153.6 393.1 153.1 393.5 152.1 395.2 151.6 396.1 150.8 396.8 150.0 398.2 148.5 398.5 147.4 398.8 146.1 399.3 144.9 399.7 143.3 398.9 141.7 398.1 140.5 396.8 139.7 396.2 138.1 395.8 136.8 395.5 135.5 394.7 133.7 393.8 132.5 392.6 133.4 391.1 133.9 389.4 133.3 388.0 133.5 387.2 132.6 385.5 132.3 384.7 132.0 383.4 130.9 382.3 131.0 382.2 129.5 383.2 128.2 383.1 126.5 383.5 125.1 384.3 123.9 384.6 122.3 384.3 120.7 383.6 119.7 384.8 119.1 385.4 117.7 386.5 116.5 387.7 115.5 388.4 113.6 389.9 112.8 390.4 111.8 391.6 110.4 393.1 109.9 393.0 108.5 393.2 107.1 393.5 106.4 394.6 105.4 394.9 103.8 395.7 103.0 394.6 102.4 393.9 100.8 392.8 100.4 391.7 99.4 390.7 98.8 389.7 97.9 388.7 96.4 386.9 95.9 387.5 94.2 388.3 93.0 389.6 92.3 390.5 91.6 391.5 91.0 392.5 89.7 394.3 89.3 395.2 88.4 395.8 87.2 395.5 85.5 394.5 86.0 393.3 86.1 392.4 86.3 391.2 85.8 389.4 85.1 388.1 85.2 387.6 83.7 387.0 82.3 386.3 81.0 385.2 79.9 385.3 78.4 384.1 77.9 383.6 76.4 382.9 74.8 382.1 73.5 381.1 72.8 379.8 71.9 378.8 71.2 378.5 69.8 377.3 68.8 377.1 67.8 378.1 66.5 379.8 66.3 381.0 65.0 382.0 63.9 382.6 63.3 383.2 61.8 383.4 60.2 384.3 59.7 385.0 58.3Z"/>
<path fill="#273871" d="M385.0 58.3 386.2 57.8 387.1 57.7 388.1 56.9 390.2 56.8 391.7 57.2 393.4 57.1 394.8 57.0 397.0 56.8 398.6 56.9 400.2 57.1 401.6 57.7 403.0 58.1 405.3 57.3 406.4 57.9 408.5 58.1 410.0 57.6 411.6 57.7 413.1 58.3 415.1 58.1 416.5 57.8 417.6 57.9 419.0 58.0 420.2 57.5 422.0 57.4 423.2 57.2 424.2 56.2 425.6 56.3 426.3 55.5 427.6 55.7 429.1 56.5 431.1 56.1 432.3 57.0 433.5 56.5 435.1 56.4 436.1 56.3 437.7 55.7 438.8 55.4 440.2 55.8 441.2 54.8 442.3 54.5 443.7 54.5 445.2 53.1 446.1 52.5 447.4 51.5 449.1 50.9 450.5 51.0 451.8 52.2 452.6 52.8 453.8 53.8 454.5 55.2 455.0 55.7 456.4 56.8 457.2 57.8 458.6 57.7 460.2 58.4 461.6 58.9 463.1 59.2 465.2 58.6 466.9 58.7 468.3 59.1 469.5 59.2 470.9 58.8 472.5 59.2 473.5 59.2 475.1 59.3 477.1 59.9 478.3 60.4 479.4 61.6 480.4 62.1 481.7 62.9 483.0 63.4 484.3 63.2 485.8 63.7 487.2 63.3 488.5 64.4 489.9 64.5 491.0 64.2 492.1 64.1 493.6 64.3 495.2 64.7 496.4 65.0 497.8 64.9 498.9 65.8 500.2 65.9 501.8 66.0 502.8 66.0 504.5 66.5 505.8 67.1 506.8 67.8 508.5 67.1 509.5 67.9 511.1 68.2 512.4 68.2 513.5 69.2 515.3 68.9 516.8 68.9 518.6 69.3 519.9 69.8 521.2 70.0 520.6 70.9 520.0 71.9 520.2 73.3 520.9 73.8 520.2 74.9 519.5 76.2 518.4 75.6 517.0 76.5 515.8 76.9 514.5 77.2 512.9 77.4 511.4 78.1 510.0 78.0 509.3 78.6 509.6 79.7 509.0 80.7 507.5 82.1 506.3 82.8 505.4 82.7 504.0 82.4 503.0 81.8 502.0 80.6 501.2 79.7 500.1 78.3 499.4 78.9 498.3 80.4 497.0 80.5 496.5 81.7 494.8 82.5 493.4 83.1 493.0 84.2 491.9 85.1 490.7 85.6 489.3 87.0 488.1 87.6 486.7 88.2 485.3 88.1 484.5 88.9 482.9 89.4 481.9 89.5 480.1 89.6 479.0 89.5 477.5 90.2 476.2 90.5 475.3 90.3 474.1 91.2 472.9 91.4 472.3 92.2 470.8 92.5 470.0 93.1 468.0 93.5 467.2 94.5 465.2 93.6 463.7 93.9 462.4 93.7 461.5 92.6 460.2 92.4 458.6 92.2 456.9 92.8 456.5 94.3 455.3 95.2 454.8 96.5 454.2 97.4 452.6 97.7 451.6 98.9 450.3 98.7 448.9 97.6 448.1 96.6 447.1 96.1 445.5 95.8 444.3 94.7 443.1 93.5 441.7 92.2 440.1 91.6 439.2 92.4 437.5 91.7 436.4 92.2 435.2 91.6 433.9 91.6 432.5 92.6 430.7 92.1 429.9 93.2 428.4 93.6 427.0 93.8 425.6 93.5 424.3 93.0 423.0 93.2 421.9 92.5 420.2 93.3 419.0 94.4 418.0 95.4 416.9 96.4 415.5 97.7 414.3 98.8 413.7 99.9 411.7 100.0 410.4 100.7 409.0 101.3 407.1 100.8 405.6 100.8 403.9 101.1 402.8 101.9 401.1 101.7 399.7 102.3 398.4 103.0 397.1 102.7 395.7 103.0 394.6 102.4 393.9 100.8 392.8 100.4 391.7 99.4 390.7 98.8 389.7 97.9 388.7 96.4 386.9 95.9 387.5 94.2 388.3 93.0 389.6 92.3 390.5 91.6 391.5 91.0 392.5 89.7 394.3 89.3 395.2 88.4 395.8 87.2 395.5 85.5 394.5 86.0 393.3 86.1 392.4 86.3 391.2 85.8 389.4 85.1 388.1 85.2 387.6 83.7 387.0 82.3 386.3 81.0 385.2 79.9 385.3 78.4 384.1 77.9 383.6 76.4 382.9 74.8 382.1 73.5 381.1 72.8 379.8 71.9 378.8 71.2 378.5 69.8 377.3 68.8 377.1 67.8 378.1 66.5 379.8 66.3 381.0 65.0 382.0 63.9 382.6 63.3 383.2 61.8 383.4 60.2 384.3 59.7 385.0 58.3Z"/>
<path fill="#3976BA" d="M521.2 70.0 522.1 70.5 523.3 70.3 524.9 69.8 526.2 70.2 527.7 70.0 528.5 69.2 530.1 69.2 531.1 68.9 532.9 69.4 533.8 69.2 535.5 68.7 536.6 68.1 537.7 68.0 539.3 67.7 540.7 67.5 542.0 67.0 543.8 66.7 544.7 66.2 545.7 65.1 547.5 64.7 548.8 64.8 550.0 64.0 551.3 64.2 552.5 63.1 554.2 63.0 555.3 63.0 556.7 62.5 557.9 63.2 559.2 62.6 558.7 63.8 558.9 65.2 559.3 66.4 560.2 68.1 560.8 67.1 562.0 65.9 563.4 65.1 564.1 63.9 565.1 63.0 566.2 63.7 567.3 62.7 568.4 62.8 569.6 61.2 570.7 61.3 572.1 61.3 573.4 60.6 574.4 60.8 575.7 61.9 576.6 62.6 578.1 63.5 579.3 63.9 578.3 65.4 578.2 66.9 579.6 66.5 580.6 67.2 581.8 67.3 583.7 67.0 584.6 67.5 585.8 68.1 587.5 68.5 588.8 69.2 589.8 69.2 590.9 70.7 591.8 70.9 592.9 71.2 594.3 71.5 595.2 71.9 596.1 72.9 595.6 74.0 594.8 74.5 593.8 75.1 592.5 75.8 590.9 76.1 589.5 76.1 588.2 76.1 586.9 75.3 585.6 76.2 584.8 76.1 583.6 77.0 582.5 77.8 581.8 78.7 580.2 79.0 579.5 79.5 579.5 80.6 579.4 82.0 579.7 82.7 579.8 84.1 579.9 84.9 579.8 86.1 580.4 86.9 578.9 87.0 577.8 86.5 576.2 86.2 575.2 86.1 573.5 86.0 572.3 85.3 570.7 85.6 570.1 85.1 569.0 85.4 568.0 86.2 567.4 86.8 566.1 87.5 565.2 88.9 564.4 89.6 563.7 90.9 562.5 91.2 561.4 92.4 560.5 92.8 559.1 94.2 557.8 93.9 557.0 95.2 555.2 95.3 553.7 95.6 552.9 96.5 552.2 97.2 551.2 99.1 550.0 99.8 550.2 101.5 550.7 102.7 552.0 103.6 552.7 104.5 553.8 104.5 554.5 103.2 555.7 102.1 555.9 100.6 557.5 100.9 558.9 101.2 558.1 102.5 558.2 104.1 558.0 105.3 559.1 106.2 559.3 107.3 559.1 108.2 558.3 109.6 558.6 110.9 557.1 110.9 555.9 112.0 554.9 111.1 554.3 110.7 552.6 110.5 551.3 111.7 550.7 113.3 549.5 112.6 547.8 112.6 547.4 111.2 545.9 109.9 545.0 111.1 544.0 112.7 542.9 111.5 541.4 110.8 540.9 109.5 539.8 108.5 538.6 107.5 539.6 107.9 540.0 109.4 539.2 107.7 538.7 106.8 538.2 105.0 537.8 103.9 537.8 101.9 536.8 100.5 535.0 99.5 533.8 98.7 532.7 98.2 531.3 97.9 530.6 96.8 529.5 96.0 528.3 94.6 527.0 93.7 526.3 93.3 525.0 93.3 524.2 92.5 522.1 92.7 520.7 93.1 519.2 93.6 518.0 93.7 516.7 93.6 515.4 94.1 513.9 94.5 512.5 94.6 510.6 94.6 510.2 93.3 509.4 93.3 508.7 91.7 507.8 90.4 507.3 89.0 506.8 87.5 506.1 86.2 505.3 85.4 504.9 83.8 504.0 82.4 505.4 82.7 506.3 82.8 507.5 82.1 509.0 80.7 509.6 79.7 509.3 78.6 510.0 78.0 511.4 78.1 512.9 77.4 514.5 77.2 515.8 76.9 517.0 76.5 518.4 75.6 519.5 76.2 520.2 74.9 520.9 73.8 520.2 73.3 520.0 71.9 520.6 70.9 521.2 70.0Z"/>
<path fill="#578CC4" d="M596.1 72.9 597.0 72.1 597.4 71.6 598.7 71.8 599.1 71.0 599.9 72.0 600.8 72.5 602.2 72.7 602.8 73.7 604.1 73.2 603.7 72.7 603.2 71.5 601.9 70.8 603.0 70.3 604.1 69.3 605.0 67.8 606.0 66.9 607.0 66.3 608.6 66.0 610.1 66.4 611.2 65.7 612.8 65.2 614.2 65.7 615.2 64.9 616.2 65.1 617.6 64.9 618.9 66.5 620.0 67.0 620.6 67.7 622.2 68.3 623.2 68.0 624.7 68.6 626.1 69.5 627.6 69.6 628.5 70.1 630.2 71.2 631.5 71.7 632.3 72.7 634.4 73.3 635.4 74.1 636.8 74.7 638.0 74.7 639.5 75.6 640.6 75.8 641.9 76.1 643.6 76.1 644.8 76.8 645.8 76.0 647.3 76.8 648.6 76.7 649.9 76.4 651.3 75.9 652.7 75.1 653.9 75.5 655.3 75.1 656.5 75.1 658.2 74.6 659.1 73.3 660.5 73.7 662.0 73.0 663.1 72.6 664.7 71.3 665.8 71.1 666.9 70.9 668.5 70.2 669.2 69.5 670.1 70.9 670.5 72.1 672.2 73.6 672.7 75.0 671.3 75.7 670.5 76.9 669.2 77.7 668.4 78.4 667.1 79.2 665.8 79.8 664.9 80.6 663.2 81.5 662.4 83.4 662.4 85.0 662.5 86.9 661.8 88.4 661.1 89.8 659.9 90.2 659.4 91.6 658.7 92.9 657.3 93.6 656.8 94.8 655.8 96.4 654.7 97.9 653.4 98.8 652.9 100.2 651.8 101.0 651.0 102.6 649.9 103.5 648.9 104.1 648.2 105.5 646.9 106.6 645.7 107.7 644.8 108.2 643.5 109.5 642.8 110.5 641.4 111.0 640.3 111.7 639.1 112.3 637.5 112.7 635.8 112.9 634.5 112.2 632.5 112.6 632.9 113.9 632.2 115.0 631.3 116.4 631.4 117.7 631.8 119.0 631.9 120.5 631.8 121.4 631.9 123.1 632.0 124.7 632.4 126.3 632.5 127.6 632.2 129.2 631.8 130.2 631.3 131.3 630.0 131.1 628.5 131.7 627.4 132.5 626.0 132.5 624.7 132.0 623.3 130.6 621.8 129.5 621.4 128.4 620.6 127.0 619.2 125.6 618.0 125.1 616.7 124.0 615.4 123.4 614.0 123.0 613.2 121.8 612.0 120.5 611.4 119.8 610.2 118.8 608.2 117.9 607.5 116.6 606.2 115.8 604.6 115.4 602.9 114.7 601.9 113.5 600.6 113.7 599.1 113.2 598.0 112.3 596.7 112.8 596.1 111.5 595.9 110.2 594.6 109.4 593.3 108.3 592.0 107.2 591.1 105.8 590.4 105.1 588.8 104.2 589.6 103.0 590.5 102.0 591.6 101.6 591.9 100.4 592.5 98.7 593.3 97.1 593.9 96.0 594.8 94.4 595.0 92.8 596.1 92.1 595.3 90.6 594.7 89.5 594.1 88.7 594.2 88.1 595.4 87.3 595.7 86.3 596.2 84.9 594.8 85.1 593.5 84.7 592.4 83.8 591.5 83.8 590.5 84.1 589.7 83.1 588.6 83.2 588.0 83.8 586.6 84.5 585.7 85.0 584.3 86.2 582.8 86.8 581.3 87.0 580.4 86.9 579.8 86.1 579.9 84.9 579.8 84.1 579.7 82.7 579.4 82.0 579.5 80.6 579.5 79.5 580.2 79.0 581.8 78.7 582.5 77.8 583.6 77.0 584.8 76.1 585.6 76.2 586.9 75.3 588.2 76.1 589.5 76.1 590.9 76.1 592.5 75.8 593.8 75.1 594.8 74.5 595.6 74.0 596.1 72.9Z"/>
<path fill="#AECDE5" d="M672.7 75.0 674.2 75.1 675.6 75.3 676.6 75.2 678.1 75.8 679.5 76.7 680.6 76.9 682.2 76.8 683.4 76.4 684.9 75.5 685.9 76.5 687.7 76.6 688.7 77.1 689.9 78.1 691.1 78.9 692.2 80.1 692.1 81.5 690.9 82.9 690.6 84.5 690.7 85.6 690.2 86.8 689.1 88.2 688.6 89.3 688.2 90.5 688.9 91.8 689.8 92.9 691.2 93.6 692.5 93.6 694.0 93.6 694.8 92.0 694.4 90.3 695.1 89.2 696.6 89.0 698.2 90.0 699.1 90.6 698.9 92.0 700.1 92.9 701.1 93.4 702.5 93.5 703.6 94.6 704.7 94.8 704.1 94.6 704.9 95.7 706.3 96.2 708.0 96.6 709.7 97.1 710.8 97.8 712.9 98.1 714.1 98.4 714.7 99.6 716.2 99.8 717.2 100.2 718.5 100.8 719.9 100.9 721.3 100.3 722.5 100.3 724.2 99.8 725.5 99.9 726.9 99.8 726.9 101.6 725.3 102.4 724.2 103.2 722.8 104.5 722.0 105.1 721.4 106.8 721.1 108.5 720.9 109.7 720.9 111.4 720.0 112.3 719.1 112.9 718.1 114.1 716.8 114.8 715.5 114.9 714.8 115.8 713.6 117.2 712.7 117.5 711.5 118.1 711.1 119.4 709.9 120.6 709.1 121.6 707.9 121.7 706.5 121.8 705.3 122.9 704.1 122.7 704.1 123.9 703.1 125.2 703.6 126.8 703.2 128.3 702.8 130.0 702.1 131.0 701.2 132.3 700.6 133.1 699.9 134.2 698.8 134.7 698.2 135.8 697.1 136.8 696.2 138.1 695.4 138.5 694.6 140.1 693.8 141.1 693.4 142.7 693.2 143.9 692.7 145.2 691.8 146.8 691.9 147.7 691.2 149.5 691.3 150.4 691.2 152.1 690.8 153.2 691.3 154.8 691.7 156.4 692.7 157.5 693.1 158.9 693.8 159.8 694.7 160.9 695.7 162.2 696.6 163.1 695.9 164.8 694.7 165.8 694.2 167.5 693.6 168.7 692.8 169.3 691.3 170.4 691.2 172.5 690.0 173.5 688.9 172.8 687.5 173.4 686.1 172.8 684.9 173.2 683.2 173.3 682.1 173.5 681.0 172.1 680.2 171.8 678.5 171.5 677.7 170.4 676.3 170.0 675.2 168.7 674.2 168.9 672.9 169.5 671.1 169.1 670.1 169.0 668.7 168.1 667.3 168.1 666.1 167.7 664.7 166.7 664.3 165.4 663.2 164.0 663.2 162.9 663.7 161.7 664.9 160.4 665.9 160.1 666.9 159.4 667.7 158.3 669.2 158.0 670.7 157.7 671.7 157.4 672.6 157.5 674.2 156.8 675.4 156.1 675.9 154.6 675.8 153.4 675.0 152.9 673.9 152.4 672.7 151.5 671.4 151.6 670.3 150.8 669.1 150.7 668.6 149.3 667.2 148.6 666.7 147.2 665.6 146.4 664.8 145.5 663.0 144.9 662.1 143.9 660.5 143.8 659.7 142.9 657.9 142.2 656.8 142.2 655.3 141.8 653.9 140.8 652.6 140.4 651.4 139.9 649.9 139.2 648.5 138.9 647.2 138.7 646.0 138.2 644.8 137.0 643.1 136.5 642.0 136.5 640.8 135.4 639.1 135.0 637.9 134.3 636.9 134.0 635.1 133.7 634.0 133.1 632.7 132.0 631.3 131.3 631.8 130.2 632.2 129.2 632.5 127.6 632.4 126.3 632.0 124.7 631.9 123.1 631.8 121.4 631.9 120.5 631.8 119.0 631.4 117.7 631.3 116.4 632.2 115.0 632.9 113.9 632.5 112.6 634.5 112.2 635.8 112.9 637.5 112.7 639.1 112.3 640.3 111.7 641.4 111.0 642.8 110.5 643.5 109.5 644.8 108.2 645.7 107.7 646.9 106.6 648.2 105.5 648.9 104.1 649.9 103.5 651.0 102.6 651.8 101.0 652.9 100.2 653.4 98.8 654.7 97.9 655.8 96.4 656.8 94.8 657.3 93.6 658.7 92.9 659.4 91.6 659.9 90.2 661.1 89.8 661.8 88.4 662.5 86.9 662.4 85.0 662.4 83.4 663.2 81.5 664.9 80.6 665.8 79.8 667.1 79.2 668.4 78.4 669.2 77.7 670.5 76.9 671.3 75.7 672.7 75.0Z"/>
<path fill="#98BEDD" d="M614.0 123.0 613.0 122.9 611.5 123.4 609.9 123.0 608.9 123.1 607.6 123.0 605.9 122.7 604.5 121.8 603.1 122.1 601.6 122.8 600.2 122.5 599.0 123.7 598.9 124.8 598.2 125.9 598.6 127.0 598.1 128.8 598.9 130.1 597.9 131.3 597.5 132.3 596.9 133.4 596.4 135.0 596.6 136.4 597.1 138.2 596.7 139.9 597.4 141.5 596.9 143.3 597.3 144.8 597.2 146.9 597.3 148.4 598.0 150.1 598.2 151.5 598.2 153.4 598.7 154.8 599.1 156.3 600.2 157.0 600.6 158.6 602.0 159.8 602.0 161.1 603.4 161.9 604.5 162.9 605.9 162.6 607.3 163.2 608.3 164.7 609.1 165.4 610.2 166.7 610.6 165.6 612.0 164.5 613.4 164.0 613.3 162.6 614.8 161.5 614.9 160.2 616.1 159.2 617.4 159.7 618.6 159.4 618.6 160.7 617.7 162.2 617.5 163.2 617.9 164.5 618.9 166.2 620.2 166.0 621.1 166.5 622.8 166.7 624.1 167.0 625.3 166.2 626.5 166.9 628.0 165.9 628.1 164.9 629.5 164.2 629.6 162.7 630.3 161.4 631.4 160.5 632.7 159.7 633.9 158.9 635.2 158.5 636.8 158.5 637.9 158.3 639.6 159.0 641.1 158.5 642.5 158.6 643.9 159.9 644.6 161.2 646.0 160.6 647.6 160.6 648.9 160.5 650.0 161.9 650.6 163.1 649.9 164.6 650.0 166.1 651.0 167.2 652.5 168.0 653.1 169.3 653.4 170.8 654.3 171.4 655.9 171.0 657.5 171.2 658.8 172.0 660.0 173.2 661.2 172.5 662.4 172.3 663.3 171.8 665.1 171.8 666.0 170.7 665.5 169.6 664.7 167.9 664.7 166.7 664.3 165.4 663.2 164.0 663.2 162.9 663.7 161.7 664.9 160.4 665.9 160.1 666.9 159.4 667.7 158.3 669.2 158.0 670.7 157.7 671.7 157.4 672.6 157.5 674.2 156.8 675.4 156.1 675.9 154.6 675.8 153.4 675.0 152.9 673.9 152.4 672.7 151.5 671.4 151.6 670.3 150.8 669.1 150.7 668.6 149.3 667.2 148.6 666.7 147.2 665.6 146.4 664.8 145.5 663.0 144.9 662.1 143.9 660.5 143.8 659.7 142.9 657.9 142.2 656.8 142.2 655.3 141.8 653.9 140.8 652.6 140.4 651.4 139.9 649.9 139.2 648.5 138.9 647.2 138.7 646.0 138.2 644.8 137.0 643.1 136.5 642.0 136.5 640.8 135.4 639.1 135.0 637.9 134.3 636.9 134.0 635.1 133.7 634.0 133.1 632.7 132.0 631.3 131.3 630.0 131.1 628.5 131.7 627.4 132.5 626.0 132.5 624.7 132.0 623.3 130.6 621.8 129.5 621.4 128.4 620.6 127.0 619.2 125.6 618.0 125.1 616.7 124.0 615.4 123.4 614.0 123.0Z"/>
<path fill="#B0CEE5" d="M726.9 101.6 727.9 102.7 729.4 104.0 729.8 105.3 730.4 106.3 731.8 107.2 732.5 107.9 733.4 109.1 734.1 109.9 735.2 110.7 736.5 111.6 737.3 112.1 737.9 110.8 738.2 109.9 739.4 109.2 740.2 109.4 741.5 109.7 742.6 110.6 744.5 109.6 746.2 109.4 747.0 108.9 747.9 107.9 749.5 107.5 750.2 108.2 751.8 108.8 752.6 108.9 753.9 109.5 754.6 110.0 755.3 111.5 756.4 111.4 757.3 111.9 758.7 111.8 759.6 113.4 760.8 113.9 761.4 115.1 762.6 116.2 762.6 117.3 764.1 118.2 765.5 118.2 766.5 118.8 768.1 118.2 769.4 117.1 770.6 116.7 771.6 116.7 772.7 116.5 773.8 116.1 775.3 116.0 776.7 115.2 777.9 115.6 779.1 116.1 780.9 116.8 781.4 118.1 782.2 118.9 783.4 119.2 784.5 118.2 785.2 116.9 786.2 116.4 787.5 116.2 788.2 116.9 789.3 117.7 790.5 118.2 792.3 117.6 793.4 118.5 794.5 117.8 796.2 117.7 798.0 118.1 799.2 117.8 800.4 118.1 802.0 117.5 803.3 118.0 803.7 119.3 804.0 120.6 804.8 121.5 806.3 121.9 807.5 123.4 807.5 124.6 808.7 125.9 808.2 127.1 808.3 128.3 807.2 129.5 806.5 130.1 805.8 131.2 805.4 132.5 806.1 134.2 806.1 135.1 806.2 136.9 806.7 138.2 806.9 139.5 807.2 140.9 807.4 142.3 807.3 143.3 807.9 144.5 808.0 146.1 807.3 147.9 806.5 149.4 806.7 150.8 805.9 152.4 805.9 154.0 805.6 155.0 805.1 156.3 805.4 158.2 805.3 159.7 804.6 160.8 803.8 161.8 803.8 163.5 803.4 164.5 802.9 165.5 802.2 166.7 801.3 168.1 800.6 169.3 799.2 169.7 798.5 170.9 798.8 172.0 798.1 173.5 798.9 174.8 799.3 175.9 799.1 177.0 798.9 178.2 798.1 179.5 797.3 180.6 795.3 181.3 794.8 182.9 793.2 184.2 792.3 185.3 791.3 186.9 790.3 187.9 788.7 188.2 787.3 189.8 786.2 190.9 785.1 192.0 786.5 193.3 787.1 194.5 787.3 196.5 788.0 197.6 789.3 198.8 789.0 200.1 788.8 201.5 788.3 203.6 787.4 204.7 787.6 206.2 787.7 207.8 787.0 209.5 787.2 211.0 786.9 212.5 787.2 214.1 787.7 215.5 787.9 216.9 787.6 218.6 787.9 220.2 786.7 221.1 786.1 222.7 784.7 223.8 783.3 224.8 782.1 225.8 781.2 227.2 779.7 228.1 778.8 229.5 779.2 230.8 779.8 232.1 780.7 232.8 781.1 234.2 781.3 235.7 782.1 237.3 782.8 238.5 781.9 240.2 781.6 241.7 781.4 243.4 780.9 244.7 781.4 245.8 780.7 247.4 781.5 248.4 781.3 249.4 782.0 250.6 781.9 251.9 780.9 252.8 779.8 253.8 779.1 255.0 778.0 256.0 776.8 256.1 775.5 256.7 773.8 256.8 772.5 257.5 771.4 257.6 770.4 257.7 769.5 258.6 768.3 257.7 767.2 256.7 766.0 256.7 764.9 256.1 763.3 255.7 761.9 254.8 760.3 253.9 759.2 252.9 757.8 253.1 756.8 252.6 756.3 253.8 755.5 255.3 754.8 256.1 754.6 257.3 753.9 258.6 753.1 259.6 751.5 260.1 749.9 259.7 748.8 260.7 747.2 260.7 747.4 262.2 747.2 263.3 747.7 264.1 749.2 264.4 750.6 265.3 751.4 266.1 751.5 267.6 751.5 268.9 751.9 269.9 752.2 271.7 752.0 273.4 750.9 274.3 749.9 274.8 749.3 275.8 749.1 277.0 748.7 277.8 749.1 278.9 750.8 279.4 751.5 280.8 750.5 282.5 749.5 283.2 748.6 284.8 747.7 285.4 746.6 286.0 745.8 287.4 746.2 288.5 745.0 289.3 743.9 289.8 742.5 290.7 740.9 290.3 739.4 290.8 738.0 290.7 737.3 291.7 736.8 292.8 736.8 293.9 735.9 295.5 735.5 296.4 735.4 298.2 734.2 299.0 733.7 300.2 732.6 300.9 732.8 301.8 733.1 302.6 731.9 302.9 731.2 303.5 729.8 304.2 728.7 304.5 727.0 304.6 726.2 305.3 725.4 306.2 724.0 306.7 723.1 308.1 722.3 309.1 721.5 310.6 721.7 311.8 721.8 313.5 723.1 314.4 723.1 315.8 722.5 317.0 721.2 317.3 719.9 318.1 719.2 317.3 717.8 316.8 718.1 315.4 717.6 313.3 717.3 312.2 716.6 310.5 715.1 309.9 714.2 309.5 712.6 309.5 711.4 309.3 709.8 309.8 708.5 308.8 707.1 309.4 705.9 309.3 704.0 310.0 704.9 308.5 704.5 307.2 705.5 305.9 703.5 306.8 702.1 307.1 700.6 306.3 699.0 306.8 697.4 307.3 695.6 307.0 694.7 305.7 692.9 305.6 691.5 304.7 690.3 303.9 690.3 302.1 689.6 301.1 688.4 300.1 687.7 298.9 688.5 298.3 688.8 297.1 688.4 295.7 688.1 294.5 686.8 293.8 685.3 294.0 683.8 294.0 682.1 293.3 681.5 292.4 679.7 291.7 679.2 290.9 678.8 289.6 678.1 288.7 676.7 287.8 675.7 286.6 674.8 286.2 674.0 287.0 673.7 287.9 673.0 286.6 673.4 285.5 672.0 284.1 671.2 282.6 670.4 281.6 670.0 280.7 669.3 280.1 669.9 278.7 670.9 277.6 671.9 275.9 673.3 274.9 673.8 273.1 674.3 272.4 674.4 270.9 674.9 269.8 675.4 268.8 676.1 267.3 677.2 266.8 678.8 266.2 679.4 265.2 680.8 264.6 682.1 264.6 682.9 263.7 683.1 262.9 683.2 261.2 683.0 259.9 683.1 258.8 682.8 257.1 682.7 255.6 683.4 254.9 683.3 253.1 683.0 252.0 682.9 251.0 682.2 250.0 680.8 248.5 680.1 247.2 680.3 245.8 679.3 245.0 679.4 243.4 677.9 242.3 677.2 240.9 676.5 239.4 674.8 238.8 674.1 237.2 673.1 235.8 671.5 235.3 670.5 234.2 669.3 233.3 668.3 232.5 667.5 231.2 666.4 230.2 665.2 229.7 664.1 228.7 662.9 227.6 661.2 226.8 660.2 226.4 658.5 226.1 657.4 226.6 656.7 227.3 655.3 227.6 654.2 226.8 652.6 226.6 651.5 226.1 650.9 224.8 650.2 223.3 650.2 222.5 650.2 221.4 649.9 220.0 650.1 218.5 649.3 217.2 649.7 216.0 649.9 214.5 649.8 213.1 650.5 212.3 651.2 210.7 651.4 209.6 652.1 208.6 652.5 207.3 653.8 207.2 655.1 206.6 655.1 208.0 655.8 209.1 656.9 210.0 657.9 209.8 659.1 209.0 659.9 209.0 661.1 208.8 661.1 207.7 660.6 206.8 660.7 205.3 660.2 203.7 660.2 201.9 659.3 201.0 659.6 199.7 658.5 198.7 659.0 197.7 658.6 196.1 659.4 195.2 660.2 195.5 661.5 196.0 662.8 196.1 663.9 195.6 664.9 195.3 666.1 194.7 667.5 193.5 668.0 191.8 668.6 190.8 669.6 190.0 669.9 188.9 670.1 187.3 669.1 186.4 669.5 185.1 668.5 184.2 668.0 183.4 667.1 181.9 667.7 180.6 667.8 178.5 668.0 177.2 667.6 175.9 666.7 174.6 666.3 173.1 666.4 171.8 666.0 170.7 665.5 169.6 664.7 167.9 664.7 166.7 666.1 167.7 667.3 168.1 668.7 168.1 670.1 169.0 671.1 169.1 672.9 169.5 674.2 168.9 675.2 168.7 676.3 170.0 677.7 170.4 678.5 171.5 680.2 171.8 681.0 172.1 682.1 173.5 683.2 173.3 684.9 173.2 686.1 172.8 687.5 173.4 688.9 172.8 690.0 173.5 691.2 172.5 691.3 170.4 692.8 169.3 693.6 168.7 694.2 167.5 694.7 165.8 695.9 164.8 696.6 163.1 695.7 162.2 694.7 160.9 693.8 159.8 693.1 158.9 692.7 157.5 691.7 156.4 691.3 154.8 690.8 153.2 691.2 152.1 691.3 150.4 691.2 149.5 691.9 147.7 691.8 146.8 692.7 145.2 693.2 143.9 693.4 142.7 693.8 141.1 694.6 140.1 695.4 138.5 696.2 138.1 697.1 136.8 698.2 135.8 698.8 134.7 699.9 134.2 700.6 133.1 701.2 132.3 702.1 131.0 702.8 130.0 703.2 128.3 703.6 126.8 703.1 125.2 704.1 123.9 704.1 122.7 705.3 122.9 706.5 121.8 707.9 121.7 709.1 121.6 709.9 120.6 711.1 119.4 711.5 118.1 712.7 117.5 713.6 117.2 714.8 115.8 715.5 114.9 716.8 114.8 718.1 114.1 719.1 112.9 720.0 112.3 720.9 111.4 720.9 109.7 721.1 108.5 721.4 106.8 722.0 105.1 722.8 104.5 724.2 103.2 725.3 102.4 726.9 101.6Z"/>
<path fill="#98BEDD" d="M803.3 118.0 803.1 116.2 803.4 114.9 802.8 113.4 803.0 112.0 802.6 110.2 803.4 108.6 804.2 107.8 805.5 106.9 806.7 106.8 807.8 106.7 808.9 107.1 810.0 108.0 811.0 108.6 812.7 108.9 814.1 109.5 816.2 109.7 817.3 110.9 818.9 110.7 820.1 111.8 821.1 111.6 823.0 111.3 824.7 111.8 825.9 112.1 827.0 113.2 828.7 114.2 829.3 115.1 829.9 116.4 831.8 116.2 833.3 116.7 834.9 116.2 836.2 117.0 838.0 116.3 839.3 116.3 840.9 116.8 841.6 117.8 842.6 118.8 843.1 120.0 844.6 121.4 844.9 122.5 845.0 124.2 845.5 125.5 845.9 126.7 846.0 128.2 845.9 129.8 845.9 131.4 845.1 132.7 845.7 134.4 846.9 135.1 847.4 136.1 849.0 136.6 850.1 136.7 850.6 135.8 852.1 135.6 853.3 134.6 854.4 133.8 856.1 133.6 857.2 132.7 858.9 132.7 860.7 132.4 862.1 132.3 863.2 132.3 864.4 132.5 866.1 132.9 867.6 133.5 868.8 133.9 870.2 134.7 871.2 135.4 872.9 136.1 873.1 134.9 874.1 133.8 874.7 132.5 875.7 134.1 876.8 135.3 875.4 136.1 874.0 136.7 874.8 138.1 874.9 140.2 875.8 141.1 876.6 141.9 878.5 141.6 879.8 141.3 881.3 140.7 882.0 140.1 882.9 138.9 883.6 137.7 884.9 138.1 886.1 137.5 887.3 137.4 888.6 136.4 889.8 136.7 891.3 136.8 892.8 137.5 894.2 137.7 895.7 137.9 896.9 138.9 898.2 139.4 898.9 140.4 900.2 140.8 901.3 141.6 902.3 142.3 903.6 142.5 904.8 143.5 905.8 142.6 907.2 142.2 908.4 142.5 910.0 142.2 911.3 142.6 911.9 141.2 912.2 140.0 913.2 139.0 914.4 138.4 915.5 138.2 916.7 137.4 918.0 136.7 919.4 136.7 920.7 135.8 922.3 135.5 923.2 134.6 924.4 134.1 925.6 133.6 927.3 133.7 928.8 134.2 930.7 133.6 931.8 133.9 932.9 134.9 934.1 135.8 935.2 136.2 936.7 136.7 938.0 136.0 939.8 136.9 939.6 138.2 939.5 139.2 939.9 140.9 940.7 142.1 941.9 142.9 943.4 143.4 944.2 143.4 945.1 144.0 946.7 143.9 947.6 144.7 947.1 146.2 946.2 147.8 945.1 148.1 944.3 149.2 943.0 148.6 941.8 149.2 940.6 148.7 939.4 149.7 938.1 150.2 937.6 151.1 937.1 151.9 936.9 153.4 937.3 154.5 937.4 156.2 937.8 157.2 938.3 158.7 938.9 159.4 940.0 160.0 940.2 161.4 940.8 162.3 941.8 163.3 942.1 164.5 942.1 165.8 941.3 167.1 942.4 168.6 943.0 169.9 942.7 171.3 941.8 172.8 941.1 174.0 940.2 175.3 939.5 176.0 938.8 177.5 937.1 178.2 936.8 179.8 935.3 180.6 934.1 181.3 933.2 181.8 932.3 182.8 931.3 183.8 930.0 185.0 928.6 185.2 927.2 186.5 926.0 187.2 924.7 188.8 923.1 189.5 921.9 190.6 921.1 191.3 919.3 191.9 918.0 192.5 917.0 193.4 915.1 193.8 913.8 194.8 912.7 195.2 911.3 196.1 910.0 196.2 908.7 197.1 907.5 198.1 905.8 198.6 904.7 199.0 903.2 199.8 901.9 201.1 900.8 201.2 899.2 202.0 898.0 203.2 896.9 203.3 895.3 204.0 894.0 204.3 892.8 205.6 891.3 205.8 890.1 206.9 889.2 207.6 888.7 208.8 888.2 209.8 887.1 211.1 885.9 212.0 885.0 213.0 885.1 214.2 883.8 215.1 883.1 216.6 882.2 217.2 880.8 218.3 879.4 217.7 878.1 218.9 876.6 219.1 875.2 218.8 873.8 219.4 872.5 219.7 871.1 220.2 870.0 220.9 869.1 221.5 867.5 221.9 866.1 222.2 865.1 222.8 863.3 222.9 861.9 223.0 860.6 223.9 859.0 223.9 857.9 224.4 856.4 224.2 855.3 225.3 854.0 225.1 852.8 226.2 851.5 226.4 850.1 226.6 848.7 227.2 847.3 228.1 845.9 227.8 844.8 228.4 843.7 229.3 841.8 229.2 840.9 229.7 839.2 230.2 838.0 230.1 836.6 231.0 835.3 231.4 834.1 231.3 832.7 232.5 831.3 233.5 830.2 233.8 828.8 233.2 827.3 233.2 825.9 234.2 824.8 234.3 823.0 234.2 822.2 234.9 821.2 235.8 819.7 237.1 818.8 238.1 817.8 238.7 817.0 239.9 815.9 240.6 815.3 242.1 814.1 243.4 813.5 244.3 812.9 245.8 811.5 246.8 810.8 248.5 809.1 249.2 807.8 249.6 807.2 250.8 806.0 251.2 807.3 252.0 808.2 253.5 809.6 253.1 810.7 252.8 812.0 254.1 813.1 254.7 814.7 255.8 815.3 257.3 814.3 258.6 813.1 259.9 811.9 260.3 810.2 261.0 809.2 262.0 808.4 262.0 807.0 262.6 806.1 263.1 805.1 263.4 803.8 264.3 802.8 264.3 801.8 265.1 800.7 265.6 799.2 266.0 797.7 266.7 796.6 267.8 796.0 268.7 795.0 269.4 793.2 270.0 792.6 268.6 791.2 267.2 789.8 266.3 788.5 265.3 787.5 265.2 786.8 264.3 785.4 264.2 784.0 263.5 783.0 262.4 781.8 261.9 781.9 260.4 781.3 258.8 780.2 257.7 779.2 256.8 778.0 256.0 779.1 255.0 779.8 253.8 780.9 252.8 781.9 251.9 782.0 250.6 781.3 249.4 781.5 248.4 780.7 247.4 781.4 245.8 780.9 244.7 781.4 243.4 781.6 241.7 781.9 240.2 782.8 238.5 782.1 237.3 781.3 235.7 781.1 234.2 780.7 232.8 779.8 232.1 779.2 230.8 778.8 229.5 779.7 228.1 781.2 227.2 782.1 225.8 783.3 224.8 784.7 223.8 786.1 222.7 786.7 221.1 787.9 220.2 787.6 218.6 787.9 216.9 787.7 215.5 787.2 214.1 786.9 212.5 787.2 211.0 787.0 209.5 787.7 207.8 787.6 206.2 787.4 204.7 788.3 203.6 788.8 201.5 789.0 200.1 789.3 198.8 788.0 197.6 787.3 196.5 787.1 194.5 786.5 193.3 785.1 192.0 786.2 190.9 787.3 189.8 788.7 188.2 790.3 187.9 791.3 186.9 792.3 185.3 793.2 184.2 794.8 182.9 795.3 181.3 797.3 180.6 798.1 179.5 798.9 178.2 799.1 177.0 799.3 175.9 798.9 174.8 798.1 173.5 798.8 172.0 798.5 170.9 799.2 169.7 800.6 169.3 801.3 168.1 802.2 166.7 802.9 165.5 803.4 164.5 803.8 163.5 803.8 161.8 804.6 160.8 805.3 159.7 805.4 158.2 805.1 156.3 805.6 155.0 805.9 154.0 805.9 152.4 806.7 150.8 806.5 149.4 807.3 147.9 808.0 146.1 807.9 144.5 807.3 143.3 807.4 142.3 807.2 140.9 806.9 139.5 806.7 138.2 806.2 136.9 806.1 135.1 806.1 134.2 805.4 132.5 805.8 131.2 806.5 130.1 807.2 129.5 808.3 128.3 808.2 127.1 808.7 125.9 807.5 124.6 807.5 123.4 806.3 121.9 804.8 121.5 804.0 120.6 803.7 119.3 803.3 118.0Z"/>
<path fill="#8EB6D9" d="M796.0 268.7 795.0 269.8 794.5 271.5 793.9 272.7 793.1 274.0 793.2 275.0 792.0 276.4 791.5 277.1 790.2 278.4 789.4 280.0 789.1 281.5 788.8 282.3 788.1 283.4 787.4 284.7 787.1 285.9 785.9 287.0 785.2 287.8 784.9 289.0 784.0 290.5 783.1 291.2 782.2 292.3 781.1 293.9 779.8 295.0 778.8 295.8 778.4 297.0 777.4 298.1 776.8 299.3 776.1 300.2 775.5 301.3 774.5 302.9 773.8 303.5 772.1 303.8 771.1 305.5 770.2 306.5 769.5 307.5 768.9 308.7 768.5 309.9 768.2 310.8 767.8 312.4 767.5 313.4 766.4 314.6 765.9 315.7 764.6 316.5 764.4 317.9 762.5 318.5 761.9 320.1 760.8 321.0 760.2 321.5 759.8 323.1 758.6 324.0 758.2 325.5 757.4 326.6 756.2 327.4 755.9 328.5 754.7 329.8 754.8 330.8 753.8 331.9 753.3 333.5 752.3 334.5 752.7 335.9 751.6 336.9 751.1 338.2 751.3 339.4 750.2 341.2 750.1 342.5 750.1 344.1 749.4 345.5 749.1 346.8 749.8 347.9 750.0 349.3 750.1 350.7 749.9 351.8 750.5 353.2 750.9 354.9 750.9 356.2 751.4 357.5 751.7 358.6 752.2 359.8 751.9 361.5 752.8 362.9 752.9 363.8 753.2 365.6 753.2 366.7 753.8 368.1 754.1 369.2 754.8 371.0 756.0 371.9 755.8 373.3 757.0 374.3 757.6 375.5 758.0 377.0 758.7 377.8 759.7 379.1 760.5 380.2 761.5 381.5 762.7 382.1 763.5 384.0 764.7 384.5 766.1 385.3 766.9 385.6 768.0 386.5 769.4 387.6 771.0 387.3 772.2 388.1 772.7 388.8 774.3 389.1 775.1 390.2 776.3 390.9 777.4 391.9 777.9 392.9 778.3 394.0 779.7 394.7 779.5 395.5 778.6 396.5 777.8 398.2 776.4 398.6 775.2 400.1 774.0 400.7 772.5 401.8 772.1 403.0 770.8 403.9 769.7 404.6 768.4 405.5 767.5 406.2 766.0 406.8 765.2 407.6 763.9 408.2 763.9 408.8 763.4 409.8 761.6 410.8 760.9 411.8 759.7 412.5 757.8 412.7 756.9 413.1 755.3 413.8 753.8 414.8 752.8 415.4 751.1 415.6 749.9 416.7 748.8 417.0 747.7 418.4 747.1 418.9 746.1 420.0 745.3 421.4 743.8 422.0 743.5 423.1 741.7 424.2 741.2 425.7 740.2 426.8 739.8 428.1 739.5 430.0 739.5 431.2 738.9 432.7 737.3 433.7 736.9 434.7 735.9 436.1 735.0 436.7 734.0 438.1 733.6 439.6 732.8 441.3 732.7 442.5 731.8 444.1 732.0 445.4 731.2 446.3 731.4 448.0 730.3 448.7 729.7 450.0 729.4 451.8 728.6 452.5 728.3 454.1 727.6 455.8 726.7 456.6 726.1 458.2 726.2 460.1 725.7 461.3 725.3 459.8 723.9 458.8 723.3 457.1 722.1 456.8 721.1 455.4 720.2 454.6 719.8 452.5 718.7 452.0 718.1 450.7 717.6 449.7 716.8 448.2 715.9 447.1 715.1 446.1 715.2 444.7 714.3 443.2 713.2 441.9 712.5 440.8 712.5 439.3 711.5 438.1 712.2 436.9 712.7 435.8 712.8 434.7 713.4 433.2 714.0 431.8 713.7 430.3 713.9 428.9 712.9 427.4 712.3 426.7 712.2 425.4 710.8 424.9 710.1 424.0 708.8 423.2 708.6 421.4 707.6 420.6 707.1 418.6 707.9 417.6 708.9 416.3 709.2 415.2 710.0 414.0 710.5 413.4 711.5 412.2 711.5 410.8 712.0 409.2 711.8 407.8 712.5 406.3 712.3 404.9 712.0 403.3 712.7 402.4 713.3 402.1 715.0 401.2 715.9 399.9 715.1 399.0 714.7 397.5 714.6 395.7 715.2 394.8 715.5 393.1 715.5 391.7 715.6 390.3 715.9 389.4 716.4 388.1 716.3 386.7 716.9 385.4 716.1 383.8 715.4 382.9 714.5 381.5 713.0 381.6 711.7 381.9 710.6 382.2 709.4 382.5 707.9 382.4 706.2 382.9 704.9 382.8 703.4 381.9 702.9 380.8 702.3 379.5 701.1 378.6 699.9 377.2 699.3 376.3 698.8 374.8 697.8 374.2 698.7 372.9 698.9 371.5 699.2 370.8 699.7 369.7 700.1 368.1 701.1 367.6 701.4 366.2 701.3 364.3 700.0 363.1 699.8 361.2 699.4 360.2 698.8 358.5 697.9 357.2 697.3 356.0 696.3 355.4 694.9 354.3 694.2 353.9 692.9 353.5 691.1 352.9 690.2 352.2 688.6 351.8 688.0 351.0 686.7 350.5 685.8 349.4 684.8 347.9 684.0 346.5 684.2 345.1 684.6 344.3 684.5 342.5 684.6 341.1 685.4 340.0 685.8 338.8 687.1 337.6 687.2 336.0 687.9 335.5 688.3 334.1 689.6 333.2 690.0 332.0 690.7 331.1 692.1 330.6 693.2 330.2 694.7 329.8 695.7 329.3 697.2 328.5 697.9 327.5 697.7 326.7 697.8 325.2 698.2 324.4 698.5 322.7 699.1 321.8 699.9 320.6 700.8 320.2 701.2 318.6 701.3 317.3 700.7 316.1 701.1 314.7 702.0 313.4 702.1 312.2 702.2 311.1 703.0 310.7 704.0 310.0 705.9 309.3 707.1 309.4 708.5 308.8 709.8 309.8 711.4 309.3 712.6 309.5 714.2 309.5 715.1 309.9 716.6 310.5 717.3 312.2 717.6 313.3 718.1 315.4 717.8 316.8 719.2 317.3 719.9 318.1 721.2 317.3 722.5 317.0 723.1 315.8 723.1 314.4 721.8 313.5 721.7 311.8 721.5 310.6 722.3 309.1 723.1 308.1 724.0 306.7 725.4 306.2 726.2 305.3 727.0 304.6 728.7 304.5 729.8 304.2 731.2 303.5 731.9 302.9 733.1 302.6 732.8 301.8 732.6 300.9 733.7 300.2 734.2 299.0 735.4 298.2 735.5 296.4 735.9 295.5 736.8 293.9 736.8 292.8 737.3 291.7 738.0 290.7 739.4 290.8 740.9 290.3 742.5 290.7 743.9 289.8 745.0 289.3 746.2 288.5 745.8 287.4 746.6 286.0 747.7 285.4 748.6 284.8 749.5 283.2 750.5 282.5 751.5 280.8 750.8 279.4 749.1 278.9 748.7 277.8 749.1 277.0 749.3 275.8 749.9 274.8 750.9 274.3 752.0 273.4 752.2 271.7 751.9 269.9 751.5 268.9 751.5 267.6 751.4 266.1 750.6 265.3 749.2 264.4 747.7 264.1 747.2 263.3 747.4 262.2 747.2 260.7 748.8 260.7 749.9 259.7 751.5 260.1 753.1 259.6 753.9 258.6 754.6 257.3 754.8 256.1 755.5 255.3 756.3 253.8 756.8 252.6 757.8 253.1 759.2 252.9 760.3 253.9 761.9 254.8 763.3 255.7 764.9 256.1 766.0 256.7 767.2 256.7 768.3 257.7 769.5 258.6 770.4 257.7 771.4 257.6 772.5 257.5 773.8 256.8 775.5 256.7 776.8 256.1 778.0 256.0 779.2 256.8 780.2 257.7 781.3 258.8 781.9 260.4 781.8 261.9 783.0 262.4 784.0 263.5 785.4 264.2 786.8 264.3 787.5 265.2 788.5 265.3 789.8 266.3 791.2 267.2 792.6 268.6 793.2 270.0 795.0 269.4 796.0 268.7Z"/>
<path fill="#DEEEF7" d="M725.7 461.3 726.7 461.8 727.6 463.1 728.0 464.1 728.8 465.6 728.9 467.3 727.9 468.6 728.4 469.3 728.1 470.5 729.0 471.7 728.6 473.2 729.5 473.9 729.2 475.1 728.2 475.8 726.8 476.7 725.3 477.3 723.2 477.1 721.6 477.9 720.1 478.4 718.8 478.3 717.4 478.0 716.6 477.8 715.2 477.6 713.7 477.6 712.7 477.1 711.2 478.4 710.0 479.4 708.7 480.0 706.8 479.8 705.3 479.6 703.8 478.5 702.4 479.2 701.1 478.5 700.0 478.9 698.5 478.6 697.3 479.3 695.9 479.5 694.9 480.1 693.6 480.9 692.8 482.2 691.4 482.7 689.9 483.8 688.6 485.2 687.3 485.5 686.1 486.4 685.5 488.2 684.2 488.6 682.9 489.4 681.2 489.8 679.7 490.3 678.9 491.2 677.7 491.3 676.7 490.2 675.3 489.6 674.1 489.2 672.9 488.7 671.5 488.3 669.9 487.9 668.8 487.4 667.6 486.3 666.7 485.2 665.7 484.4 665.1 482.9 664.3 481.5 663.3 480.7 662.4 479.6 661.5 478.2 661.0 476.4 660.0 475.5 659.0 473.9 659.5 472.4 658.0 471.0 658.0 469.5 658.4 467.9 658.4 466.3 658.3 465.0 658.2 463.4 658.9 461.7 658.1 460.1 658.8 459.0 658.5 457.3 657.6 457.3 656.1 456.9 654.8 456.8 653.1 456.6 651.5 455.9 650.2 456.1 649.0 455.3 647.1 454.9 646.2 453.1 644.8 452.9 643.4 451.5 642.6 450.1 642.0 448.6 641.5 447.6 640.0 446.7 639.3 445.7 640.2 444.5 640.6 443.5 641.0 441.8 642.4 441.3 642.3 439.9 643.2 438.8 644.1 437.2 645.5 436.1 646.7 434.8 647.1 433.3 648.4 432.9 649.1 431.5 649.9 430.8 651.1 430.1 652.6 428.8 653.5 427.9 654.7 426.8 656.2 426.5 657.4 426.9 658.5 427.3 660.0 426.3 661.7 426.2 662.5 425.4 664.0 425.1 665.8 424.2 666.6 423.2 668.6 422.9 669.4 422.2 671.4 421.9 672.2 422.0 673.4 422.8 674.5 422.5 675.4 424.1 675.9 425.6 677.2 425.8 678.7 425.5 679.9 426.1 681.7 425.8 682.6 425.5 684.0 424.2 684.6 423.5 685.3 422.5 686.2 421.1 685.8 419.8 686.9 418.2 686.8 416.8 686.8 415.6 686.0 413.8 686.1 412.7 686.0 411.1 685.9 410.1 685.6 409.0 686.8 408.2 687.3 406.4 688.1 404.9 688.1 403.2 688.5 401.9 689.5 401.4 690.2 400.1 691.2 400.5 692.9 400.2 693.9 399.4 694.9 398.9 696.0 398.0 697.7 397.6 698.6 396.9 700.2 396.5 701.3 395.3 702.5 395.1 703.7 395.8 705.4 396.2 706.8 396.5 707.4 398.0 708.6 399.0 709.8 399.8 710.5 401.1 711.0 402.7 712.0 403.3 712.3 404.9 712.5 406.3 711.8 407.8 712.0 409.2 711.5 410.8 711.5 412.2 710.5 413.4 710.0 414.0 709.2 415.2 708.9 416.3 707.9 417.6 707.1 418.6 707.6 420.6 708.6 421.4 708.8 423.2 710.1 424.0 710.8 424.9 712.2 425.4 712.3 426.7 712.9 427.4 713.9 428.9 713.7 430.3 714.0 431.8 713.4 433.2 712.8 434.7 712.7 435.8 712.2 436.9 711.5 438.1 712.5 439.3 712.5 440.8 713.2 441.9 714.3 443.2 715.2 444.7 715.1 446.1 715.9 447.1 716.8 448.2 717.6 449.7 718.1 450.7 718.7 452.0 719.8 452.5 720.2 454.6 721.1 455.4 722.1 456.8 723.3 457.1 723.9 458.8 725.3 459.8 725.7 461.3Z"/>
<path fill="#2D4683" d="M518.3 292.3 519.3 291.2 519.8 289.8 519.9 288.8 521.1 287.3 521.3 285.8 522.6 285.1 523.3 284.3 524.9 284.0 525.0 282.6 526.2 281.2 526.9 280.3 528.0 279.8 528.5 278.7 529.0 277.3 530.2 275.8 531.2 274.8 531.5 273.5 532.3 272.0 533.6 271.5 533.9 269.8 535.0 268.9 535.5 267.0 536.7 266.0 537.3 264.4 538.5 263.4 539.1 262.2 540.5 261.2 541.4 260.3 541.6 259.1 542.8 258.0 543.5 256.6 544.2 256.2 544.9 254.5 546.0 254.0 547.7 253.0 548.7 252.1 549.0 250.5 549.6 249.4 550.4 248.5 551.5 247.5 551.9 245.8 552.6 244.8 552.3 243.4 553.2 242.0 553.9 240.9 555.7 240.3 556.5 239.2 557.5 238.4 558.7 237.9 559.8 237.2 561.0 236.0 562.6 235.3 563.3 233.8 564.3 232.6 565.6 231.6 566.9 230.6 567.6 229.8 568.8 229.2 569.9 228.2 571.3 227.3 572.3 227.0 573.3 226.5 574.5 227.0 576.0 227.3 577.0 227.9 577.4 229.2 578.8 230.0 579.3 231.2 580.0 232.6 580.6 233.3 581.2 234.5 581.1 236.2 581.3 237.7 581.3 239.0 580.7 240.1 580.1 241.0 579.9 242.6 579.7 243.4 578.8 244.8 578.7 246.1 577.8 247.2 577.8 248.7 577.7 250.1 577.1 251.7 576.2 252.6 576.9 253.6 577.6 255.4 578.8 255.8 579.5 257.1 579.9 258.2 580.0 259.1 581.7 259.8 582.6 260.8 583.3 261.7 584.6 262.6 585.4 263.3 585.7 264.6 586.3 266.0 586.6 267.5 587.6 267.9 587.9 269.2 589.3 270.0 590.4 271.0 591.0 271.9 591.8 272.9 592.8 273.9 593.5 275.1 593.8 276.5 594.2 277.8 594.9 279.0 595.1 280.1 596.0 281.8 596.2 283.3 595.8 284.7 594.6 286.1 594.8 287.3 594.0 288.8 593.2 290.1 594.5 290.3 595.6 290.9 596.9 291.5 597.7 290.1 597.9 288.6 598.5 290.2 598.5 291.2 599.2 292.5 599.8 294.2 599.6 295.1 600.1 296.8 600.0 298.1 599.8 299.8 598.8 300.3 597.8 301.5 596.7 301.0 595.2 300.6 593.6 301.5 592.2 301.2 590.1 300.9 588.5 300.9 587.5 301.3 586.3 301.5 584.5 301.2 583.3 302.1 581.9 302.7 580.9 303.2 579.4 304.0 578.4 304.6 576.9 304.9 575.6 305.7 574.6 306.3 573.1 306.7 572.3 307.6 570.7 307.8 570.1 308.7 569.0 308.9 568.0 309.4 567.3 310.5 565.5 311.3 564.9 312.6 563.1 313.0 562.1 314.2 560.8 314.3 559.6 315.3 558.5 315.4 557.0 314.5 556.3 313.7 557.2 312.9 557.7 311.8 559.1 310.9 560.3 309.7 561.9 309.7 563.0 308.8 563.5 307.6 564.9 306.6 566.2 306.1 566.9 305.2 567.9 304.9 568.8 303.5 569.3 302.2 569.5 301.0 568.9 300.0 568.1 298.7 566.8 298.1 565.3 298.2 564.4 297.8 563.1 297.2 562.0 297.3 560.9 296.1 559.4 295.9 557.8 295.4 556.8 295.5 555.5 294.6 554.2 294.0 552.6 293.2 551.2 293.5 549.6 292.8 548.5 292.5 547.1 291.5 546.0 290.8 545.4 289.8 544.1 289.4 543.1 288.8 541.7 288.6 540.9 287.8 539.7 287.3 537.9 286.5 536.8 288.1 535.5 288.9 533.7 289.4 532.5 289.9 531.4 289.8 530.9 288.6 529.8 287.4 528.6 285.8 527.2 286.6 526.2 287.5 524.8 288.1 523.5 288.9 522.8 290.0 520.9 290.4 519.5 291.2 518.3 292.3Z"/>
<path fill="#90B8DA" d="M611.3 112.3 612.6 111.3 613.8 111.1 615.4 111.1 616.7 111.5 618.1 111.5 619.6 112.4 620.7 113.1 621.9 113.5 623.3 114.8 624.5 114.8 626.0 115.7 626.8 117.1 628.0 118.0 628.9 118.9 629.8 120.5 628.8 120.9 628.2 122.3 626.1 122.2 624.6 121.3 623.4 120.8 621.8 120.7 620.8 120.2 619.2 120.4 617.8 120.5 617.4 119.4 616.1 118.6 614.7 118.1 614.2 117.0 612.8 116.4 612.2 114.8 611.3 114.3Z"/>
<path fill="#8EB6D9" d="M687.7 298.7 689.3 297.9 690.8 297.9 692.3 297.7 694.1 297.4 694.1 296.0 695.6 294.8 696.1 293.1 696.8 294.7 697.2 296.2 697.8 297.4 699.1 298.7 700.2 299.6 701.6 299.3 702.5 299.9 704.3 299.9 705.9 299.9 707.0 300.7 707.5 301.4 708.5 302.7 708.0 303.5 708.2 304.9 706.9 305.7 705.4 306.1 704.1 306.0 702.9 306.6 701.9 307.3 700.2 306.9 698.8 307.3 697.1 307.2 696.1 306.8 694.6 307.3 693.4 306.8 692.2 305.8 691.3 304.8 690.8 303.6 690.3 302.7 689.6 301.3Z"/>
<path fill="#AECDE5" d="M702.7 138.7 703.6 137.4 704.9 136.8 705.6 135.7 705.8 134.8 706.9 133.4 708.0 132.7 708.6 134.1 709.1 135.8 709.9 136.9 708.3 136.6 706.5 137.3 705.4 137.5 704.5 138.6 703.3 138.7Z"/>
<path fill="#3976BA" d="M587.6 78.4 588.8 78.2 590.1 78.2 590.2 79.8 590.7 81.3 590.1 82.7 588.9 83.3 588.0 83.1Z"/>
<path fill="#ffffff" d="M724.9 462.7 723.9 463.9 723.1 465.2 722.4 466.3 721.7 467.9 721.0 468.7 722.4 469.7 723.5 471.2 724.2 472.0 725.1 472.7 726.1 473.1 727.2 472.6 727.9 472.2 728.0 471.3 727.7 470.1 727.6 468.8 727.4 467.3 727.5 466.1 727.2 464.8 726.6 463.6 726.0 462.8Z"/>
<path fill="#C7DFEE" d="M892.7 336.9 894.4 336.8 896.0 335.9 897.2 334.9 898.5 334.7 900.2 333.7 901.3 333.8 902.5 332.6 903.8 332.2 904.3 330.7 905.4 329.4 906.5 328.7 907.8 327.8 908.4 326.5 909.4 325.6 909.9 324.6 911.2 323.7 911.9 323.0 912.6 321.9 914.1 320.7 915.8 320.4 916.7 319.4 917.7 318.4 918.7 317.7 919.9 317.1 921.3 317.2 922.9 316.2 923.8 315.3 925.8 315.2 926.8 314.2 928.1 313.6 929.6 313.4 931.3 312.9 932.7 312.8 933.6 311.8 934.8 311.3 936.2 311.3 937.2 311.0 938.0 310.4 939.3 310.4 940.9 310.4 942.3 310.7 941.2 311.5 940.1 312.9 938.4 313.4 937.2 314.2 936.5 314.7 935.5 314.5 936.6 315.3 937.5 316.1 938.6 315.9 939.9 315.9 941.4 315.5 941.1 316.4 940.7 317.9 939.5 318.1 938.2 318.9 937.2 319.5 937.0 320.4 936.7 321.2 937.4 322.8 938.5 324.1 939.9 325.3 941.3 325.9 942.1 326.2 943.3 325.9 944.6 325.9 946.1 325.3 947.5 324.6 947.7 323.1 948.8 322.7 949.7 322.6 950.7 324.0 952.2 324.1 953.4 325.0 954.6 325.2 955.7 326.3 956.4 327.2 955.7 328.5 955.1 330.1 954.5 331.3 954.1 332.9 952.8 333.5 951.9 335.4 951.2 336.2 950.3 337.3 950.1 338.5 949.7 339.7 948.4 340.7 948.2 342.1 947.8 343.1 947.3 344.1 946.5 345.4 946.7 346.4 946.0 347.4 946.0 348.6 945.5 350.2 944.5 351.2 944.0 352.6 942.9 353.5 942.0 354.1 940.7 354.7 939.6 355.2 938.5 355.8 937.2 356.7 936.2 358.1 934.5 358.4 933.8 359.4 933.1 357.8 931.6 356.5 930.6 355.7 930.6 354.8 929.4 353.7 928.2 353.0 926.5 352.3 925.2 352.1 924.1 352.2 922.8 352.5 921.3 352.8 920.5 352.8 919.2 352.6 918.3 351.2 917.3 350.3 916.9 348.4 915.9 347.0 916.4 345.6 916.8 344.1 915.5 342.7 913.9 342.1 913.0 341.0 912.0 341.0 910.5 340.7 909.4 340.8 908.4 341.1 907.1 341.1 907.0 342.6 906.3 343.5 905.2 344.6 903.9 344.7 903.5 345.4 902.2 344.4 902.2 342.8 902.1 341.7 901.2 340.5 900.3 340.2 899.3 339.9 897.8 339.2 896.9 338.5 896.1 338.6 894.7 338.2 893.8 337.5 892.7 336.9Z"/>
<path fill="#C7DFEE" d="M925.3 368.0 925.8 366.8 927.0 366.1 927.8 365.2 928.5 364.0 929.4 364.7 929.9 366.2 929.5 367.0 928.7 368.3 927.9 368.7 927.2 369.4 926.1 369.5 925.3 368.0Z"/>
<path fill="#C7DFEE" d="M973.3 306.7 974.8 305.5 975.4 303.9 976.7 303.6 977.7 303.9 979.1 303.5 980.9 302.8 982.5 303.0 984.2 303.1 985.2 302.9 986.8 303.0 988.0 302.7 988.9 302.1 989.8 301.3 991.4 302.0 992.2 303.5 992.9 302.9 994.2 303.0 994.3 304.5 995.9 305.5 996.8 307.1 998.0 308.1 998.3 309.5 999.4 309.9 999.5 311.0 1000.7 312.2 1001.2 313.8 1002.0 314.9 1002.6 316.6 1002.6 318.4 1001.6 319.8 1001.6 321.3 1000.3 320.8 998.9 320.8 997.2 319.4 995.9 319.1 994.6 318.4 994.0 318.0 992.9 317.1 991.6 316.6 990.2 316.2 989.3 315.3 988.4 314.3 986.9 313.4 986.1 313.1 984.6 313.1 983.9 312.7 982.6 311.8 981.6 312.7 980.2 312.7 978.8 312.5 977.9 313.1 976.6 312.8 975.3 312.8 974.5 311.6 974.2 310.2 974.1 308.9 973.6 307.5 973.3 306.7Z"/>
<path fill="#C7DFEE" d="M831.9 378.6 832.9 379.1 833.1 380.1 834.7 380.3 836.3 380.3 836.5 378.7 837.7 377.6 838.3 376.3 838.0 375.1 839.2 373.8 840.6 373.4 841.6 372.8 842.6 372.1 843.6 372.0 845.0 371.5 845.7 370.8 847.0 370.6 848.7 370.0 850.0 369.4 850.8 370.5 852.3 371.0 853.5 371.6 854.8 371.9 854.6 373.3 855.0 374.4 856.2 374.8 857.0 375.3 855.6 375.4 854.7 376.3 853.8 377.3 853.4 378.1 852.0 378.4 851.3 379.7 850.1 379.9 848.8 381.6 847.7 381.9 846.6 383.2 845.6 383.5 844.8 384.9 844.3 385.9 843.1 386.7 843.4 387.7 842.6 388.8 841.8 389.0 841.0 388.0 840.0 387.2 838.5 386.5 837.0 387.1 835.6 387.1 834.3 386.7 833.3 387.2 832.0 387.2 832.1 386.4 833.4 385.6 834.0 384.3 834.0 383.3 833.0 382.7 833.0 381.5 832.6 379.7 831.9 378.6Z"/>
<path fill="#C7DFEE" d="M842.4 397.1 843.5 396.8 845.0 396.4 845.5 394.9 844.9 393.6 844.7 392.0 843.9 390.4 843.6 389.0 844.1 389.3 845.0 390.5 845.3 392.0 845.9 393.2 846.3 394.7 847.2 395.8 847.2 396.8 847.2 398.0 848.0 399.0 848.9 399.8 849.3 400.5 850.6 400.1 851.7 399.6 853.0 399.6 853.3 400.3 853.8 401.1 853.1 402.3 852.2 402.0 851.1 402.4 849.6 401.8 848.5 401.6 847.7 400.5 846.5 399.8 846.1 401.1 845.0 401.6 843.9 401.9 843.4 403.4 842.6 403.0 841.9 401.7 842.2 400.1 842.7 398.6 842.4 397.1Z"/>
<path fill="#99BFDD" d="M56.0 606.7 56.7 605.4 57.4 604.5 58.2 603.2 59.3 602.8 59.6 601.1 60.6 600.9 61.8 601.2 63.1 601.8 64.9 601.5 66.1 601.3 67.2 601.2 68.5 601.4 68.9 602.5 69.7 603.7 70.5 604.9 70.8 605.7 71.3 607.0 71.9 608.2 71.4 609.0 70.2 609.8 70.1 611.1 70.0 613.0 69.5 614.3 70.0 616.2 69.6 617.1 69.3 618.6 68.8 620.1 68.4 621.5 67.0 622.7 66.8 624.0 65.6 625.6 64.7 626.6 63.9 625.9 63.3 624.6 62.7 623.2 62.1 622.4 61.9 620.5 61.9 619.1 61.4 618.5 60.6 617.0 59.8 615.9 59.5 614.9 58.9 613.7 58.7 612.2 58.2 611.5 57.0 609.8 56.4 608.3 56.0 606.7Z"/>
<path fill="#99BFDD" d="M47.3 674.0 48.0 672.6 49.1 672.4 50.1 671.3 51.5 671.4 52.9 671.1 53.9 670.5 55.0 670.3 56.1 668.7 56.6 667.9 57.6 667.4 58.9 667.2 59.8 666.3 61.2 666.6 62.2 667.8 62.3 669.2 62.0 670.9 61.3 672.4 60.2 673.2 59.7 674.4 59.2 675.9 58.6 676.8 58.5 678.2 58.0 679.3 56.9 679.9 55.9 679.3 55.0 678.0 53.8 677.9 52.8 676.7 52.1 676.0 50.2 675.3 48.9 675.5 48.1 674.1 47.3 674.0Z"/>
<path fill="#99BFDD" d="M91.3 647.3 92.1 646.2 92.1 645.2 92.8 644.2 94.0 643.3 94.7 642.4 95.9 642.3 97.5 642.8 98.9 643.0 99.9 643.1 101.4 644.1 102.1 644.9 103.6 645.6 104.5 646.9 105.0 647.3 105.8 648.9 104.9 649.4 104.9 650.8 104.2 651.8 103.3 653.1 101.7 653.4 100.9 654.6 99.5 654.7 97.8 655.2 96.9 655.0 95.7 654.6 94.3 653.8 93.3 652.7 92.7 651.6 92.4 650.1 91.5 648.4 91.3 647.3Z"/>
<path fill="#99BFDD" d="M120.0 631.3 121.1 630.6 122.9 631.2 124.3 631.3 125.1 630.6 126.7 630.4 128.1 629.6 129.4 629.4 130.8 629.2 132.1 628.9 133.2 628.7 134.7 628.8 135.9 627.8 137.7 627.4 138.8 626.3 139.8 625.1 141.1 624.1 142.1 623.6 142.5 621.8 143.7 620.8 145.2 620.4 145.9 619.4 147.9 619.6 148.8 618.6 150.5 618.6 152.2 618.7 153.1 618.1 154.7 618.5 156.1 618.7 157.8 617.8 158.3 619.3 158.8 620.6 157.0 621.5 155.9 622.9 154.9 623.1 153.1 623.8 152.1 624.7 150.8 625.5 150.0 625.8 148.7 626.7 148.2 628.0 147.5 629.3 146.8 629.8 146.5 631.2 145.8 632.6 145.2 633.9 145.0 635.7 144.7 637.1 143.9 637.9 144.0 639.7 142.7 641.1 142.5 642.7 142.7 644.1 142.1 646.0 141.2 647.5 140.8 648.3 140.3 650.0 139.3 650.9 138.6 652.1 137.2 652.7 136.9 654.1 135.0 654.7 133.4 654.8 132.2 655.5 130.6 655.6 129.0 655.3 127.9 656.2 127.6 654.8 126.3 653.8 126.1 652.8 125.2 651.2 124.7 649.9 123.9 648.5 123.3 647.7 123.3 646.1 122.0 644.6 122.1 643.1 121.0 642.0 121.4 640.3 120.7 639.2 119.9 638.2 120.0 636.4 118.6 635.3 118.7 634.2 119.0 632.8 120.0 631.3Z"/>
<path fill="#99BFDD" d="M181.3 645.3 182.4 645.0 183.5 645.2 184.8 646.1 186.0 646.5 187.1 646.9 188.1 647.1 189.6 647.1 191.3 646.6 192.2 647.2 193.5 647.1 194.6 647.5 195.6 646.2 195.8 644.7 197.0 644.5 197.7 645.1 197.3 646.4 197.2 647.4 197.1 648.7 197.7 650.6 198.2 651.8 198.6 653.2 199.1 654.4 199.1 655.3 199.2 657.2 199.7 658.3 200.0 659.9 199.4 660.9 199.4 662.4 198.8 663.3 198.2 664.7 198.0 665.8 197.0 667.6 196.0 668.8 194.9 668.8 193.7 669.8 192.5 670.6 191.6 671.1 190.4 671.2 189.4 672.0 187.8 672.6 187.1 673.8 186.2 673.7 185.2 672.6 183.8 672.5 183.0 671.5 182.1 671.0 180.6 670.8 179.4 670.1 178.8 669.3 178.1 667.9 177.7 666.5 176.7 665.7 175.9 664.9 175.0 663.3 175.1 662.0 174.7 660.6 174.3 659.7 174.9 658.5 174.8 657.4 174.8 656.2 176.4 655.6 176.5 654.4 177.7 653.6 178.6 652.6 179.1 652.2 179.9 651.1 179.7 649.8 180.8 648.8 180.9 647.8 180.7 646.4 181.3 645.3Z"/>
<path fill="#99BFDD" d="M246.7 650.0 248.1 649.2 250.1 649.1 251.3 649.3 252.5 647.9 253.8 647.8 255.0 647.1 256.2 646.3 257.2 646.1 257.9 645.3 259.1 644.3 260.0 643.8 260.5 642.4 261.8 641.3 262.6 640.1 262.8 638.9 262.6 637.4 263.5 636.2 263.2 634.9 263.9 634.1 264.6 632.6 265.3 631.2 265.3 630.2 265.9 628.4 266.3 627.0 267.5 626.0 267.9 624.4 269.0 623.4 269.2 622.0 269.3 620.6 270.1 619.5 270.3 618.3 271.1 617.2 272.3 615.8 272.4 614.4 272.5 612.5 273.3 611.3 273.7 610.7 274.2 609.2 275.1 608.2 276.7 607.8 278.3 608.1 279.9 607.1 281.8 607.6 282.9 608.8 283.4 609.9 283.6 611.4 283.7 613.3 284.2 614.5 283.8 616.0 283.9 617.1 284.1 618.5 283.7 620.2 283.8 621.2 282.5 622.7 282.5 624.1 282.9 625.6 282.8 626.5 281.9 628.1 281.9 629.3 282.8 630.7 282.2 632.1 282.0 633.6 281.2 634.5 280.7 636.0 280.8 637.8 280.1 638.7 278.6 639.8 277.8 640.9 276.7 641.5 275.5 641.7 273.8 642.3 272.8 642.1 271.2 642.5 269.9 643.1 268.7 643.7 267.5 644.4 266.2 644.5 264.9 644.6 263.9 645.0 262.8 646.1 262.1 647.5 260.7 648.8 259.7 649.8 258.9 651.3 257.5 652.0 256.6 653.2 255.2 653.6 254.1 653.0 252.8 653.2 251.9 652.4 250.1 652.9 249.5 652.4 247.7 652.1 246.9 651.8 246.9 650.8 246.7 650.0Z"/>
<path fill="#99BFDD" d="M280.7 599.3 281.5 598.1 282.7 596.5 282.9 595.5 283.3 594.3 283.5 592.5 283.4 591.3 284.8 590.4 284.9 589.1 285.2 588.3 286.1 587.5 287.2 586.6 288.5 586.0 289.5 586.2 290.7 585.4 291.8 584.2 292.9 584.3 294.0 583.9 295.1 583.4 296.2 583.6 297.3 582.9 298.9 582.7 300.2 581.8 300.6 581.0 301.5 579.7 301.2 578.9 300.6 577.8 300.1 576.9 299.7 575.4 298.5 574.2 299.4 573.0 300.1 572.2 300.9 572.9 302.0 573.4 302.1 574.8 302.9 575.9 303.7 577.2 304.8 577.3 305.3 578.6 306.2 580.1 305.9 581.2 304.9 581.9 304.8 583.3 304.8 584.4 303.9 585.2 304.0 586.9 303.8 588.6 303.3 590.2 302.0 590.7 301.6 592.2 300.6 592.9 299.4 593.2 298.4 594.2 297.5 594.9 296.2 594.8 295.1 596.1 294.0 596.5 292.6 596.7 291.7 597.6 290.6 597.4 289.2 598.3 288.0 599.4 286.8 600.0 286.1 601.3 284.7 600.8 283.4 600.5 281.8 600.0 280.7 599.3Z"/>
<ellipse cx="300.7" cy="565.4" rx="1.1" ry="0.8" fill="#99BFDD"/>
<circle cx="283.7" cy="607.3" r="0.4" fill="#99BFDD"/>
<path fill="#F4FAFE" d="M474.6 596.2 L476.4 595.8 L477 597.4 L475.2 598.2Z"/>
<circle cx="605.5" cy="639.4" r="0.8" fill="#ECF6FB"/>
<circle cx="601.9" cy="592.8" r="0.75" fill="#aaaaaa" stroke="none"/>
<ellipse cx="802.7" cy="267.1" rx="3.3" ry="1.3" transform="rotate(-17 802.7 267.1)" fill="#98BEDD"/>
<circle cx="804.5" cy="314.8" r="0.75" fill="#aaaaaa" stroke="none"/>
<circle cx="283.7" cy="129.0" r="0.45" stroke-width="1.1" fill="#315B9E"/>
<circle cx="286.3" cy="133.7" r="0.45" stroke-width="1.1" fill="#315B9E"/>
<circle cx="281.7" cy="133.7" r="0.45" stroke-width="1.1" fill="#315B9E"/>
<circle cx="276.3" cy="131.9" r="0.45" stroke-width="1.1" fill="#315B9E"/>
<circle cx="279.8" cy="140.5" r="0.45" stroke-width="1.1" fill="#315B9E"/>
<circle cx="282.3" cy="150.7" r="0.45" stroke-width="1.1" fill="#315B9E"/>
<circle cx="285.7" cy="157.0" r="0.45" stroke-width="1.1" fill="#315B9E"/>
<circle cx="283.3" cy="153.7" r="0.45" stroke-width="1.1" fill="#315B9E"/>
</g>
<path d="M48 545 L306 545 L333 577.2 L333 679.7" fill="none" stroke="#ababab" stroke-width="2"/>
<rect x="302.9" y="100.0" width="71.0" height="22.7" rx="3.3" fill="#ffffff" fill-opacity="0.5"/>
<rect x="413.4" y="66.4" width="71.0" height="22.7" rx="3.3" fill="#ffffff" fill-opacity="0.5"/>
<rect x="499.8" y="76.2" width="71.0" height="22.7" rx="3.3" fill="#ffffff" fill-opacity="0.5"/>
<rect x="591.8" y="87.9" width="71.0" height="22.7" rx="3.3" fill="#ffffff" fill-opacity="0.5"/>
<rect x="632.2" y="112.7" width="71.0" height="22.7" rx="3.3" fill="#ffffff" fill-opacity="0.5"/>
<rect x="596.5" y="136.0" width="71.0" height="22.7" rx="3.3" fill="#ffffff" fill-opacity="0.5"/>
<rect x="509.7" y="179.6" width="71.0" height="22.7" rx="3.3" fill="#ffffff" fill-opacity="0.5"/>
<rect x="685.8" y="199.0" width="71.0" height="22.7" rx="3.3" fill="#ffffff" fill-opacity="0.5"/>
<rect x="818.0" y="177.6" width="71.0" height="22.7" rx="3.3" fill="#ffffff" fill-opacity="0.5"/>
<rect x="526.5" y="259.8" width="71.0" height="22.7" rx="3.3" fill="#ffffff" fill-opacity="0.5"/>
<rect x="553.3" y="319.4" width="71.0" height="22.7" rx="3.3" fill="#ffffff" fill-opacity="0.5"/>
<rect x="406.4" y="351.5" width="71.0" height="22.7" rx="3.3" fill="#ffffff" fill-opacity="0.5"/>
<rect x="690.8" y="344.4" width="71.0" height="22.7" rx="3.3" fill="#ffffff" fill-opacity="0.5"/>
<rect x="640.9" y="432.2" width="71.0" height="22.7" rx="3.3" fill="#ffffff" fill-opacity="0.5"/>
<rect x="484.5" y="481.0" width="71.0" height="22.7" rx="3.3" fill="#ffffff" fill-opacity="0.5"/>
<rect x="887.6" y="323.8" width="71.0" height="22.7" rx="3.3" fill="#ffffff" fill-opacity="0.5"/>
<rect x="95.5" y="626.0" width="71.0" height="22.7" rx="3.3" fill="#ffffff" fill-opacity="0.5"/>
<rect x="439.6" y="584.9" width="71.0" height="22.7" rx="3.3" fill="#ffffff" fill-opacity="0.5"/>
<rect x="570.0" y="627.6" width="71.0" height="22.7" rx="3.3" fill="#ffffff" fill-opacity="0.5"/>
<g font-family="'Liberation Sans', sans-serif" font-size="16.8" letter-spacing="0.25" fill="#151515" text-anchor="middle">
<text x="338.4" y="117.4">51.88%</text>
<text x="448.9" y="83.8">52.29%</text>
<text x="535.3" y="93.6">51.58%</text>
<text x="627.3" y="105.3">51.32%</text>
<text x="667.7" y="130.1">50.46%</text>
<text x="632.0" y="153.4">50.68%</text>
<text x="545.2" y="197.0">50.76%</text>
<text x="721.3" y="216.4">50.44%</text>
<text x="853.5" y="195.0">50.68%</text>
<text x="562.0" y="277.2">52.12%</text>
<text x="588.8" y="336.9">49.83%</text>
<text x="441.9" y="369.0">50.61%</text>
<text x="726.3" y="361.9">50.79%</text>
<text x="676.4" y="449.7">49.91%</text>
<text x="520.0" y="498.5">50.81%</text>
<text x="923.1" y="341.2">50.18%</text>
<text x="131.0" y="643.5">50.67%</text>
<text x="475.1" y="602.4">49.57%</text>
<text x="605.5" y="645.1">49.72%</text>
</g>
<text x="50.3" y="94.8" letter-spacing="0.25" font-family="'Liberation Sans', sans-serif" font-size="22.6" fill="#151515">% women</text>
<g stroke="#c0c0c0" stroke-width="1.5">
<rect x="51.3" y="108.40" width="34.4" height="36.00" fill="#EAF5FB"/>
<rect x="51.3" y="144.40" width="34.4" height="36.00" fill="#D7E9F4"/>
<rect x="51.3" y="180.40" width="34.4" height="36.00" fill="#C1DBEC"/>
<rect x="51.3" y="216.40" width="34.4" height="36.00" fill="#AACAE3"/>
<rect x="51.3" y="252.40" width="34.4" height="36.00" fill="#91B9DA"/>
<rect x="51.3" y="288.40" width="34.4" height="36.00" fill="#78A6D0"/>
<rect x="51.3" y="324.40" width="34.4" height="36.00" fill="#5E92C7"/>
<rect x="51.3" y="360.40" width="34.4" height="36.00" fill="#437DBD"/>
<rect x="51.3" y="396.40" width="34.4" height="36.00" fill="#3267AC"/>
<rect x="51.3" y="432.40" width="34.4" height="36.00" fill="#2F5190"/>
<rect x="51.3" y="468.40" width="34.4" height="34.90" fill="#293B75"/>
</g>
<g font-family="'Liberation Sans', sans-serif" font-size="17.75" fill="#151515">
<text x="98.0" y="132.7">49.75%</text>
<text x="98.0" y="168.7">50.00%</text>
<text x="98.0" y="204.7">50.25%</text>
<text x="98.0" y="240.7">50.50%</text>
<text x="98.0" y="276.7">50.75%</text>
<text x="98.0" y="312.7">51.00%</text>
<text x="98.0" y="348.7">51.25%</text>
<text x="98.0" y="384.7">51.50%</text>
<text x="98.0" y="420.7">51.75%</text>
<text x="98.0" y="456.7">52.00%</text>
<text x="98.0" y="492.7">52.25%</text>
</g>
<text x="1049.5" y="736" text-anchor="end" font-family="'Liberation Sans', sans-serif" font-size="18.37" fill="#151515">Source: CartoBase ANE 2006-2024 CC-BY 4.0 ign.es, INE</text>
</svg>
</body></html>
